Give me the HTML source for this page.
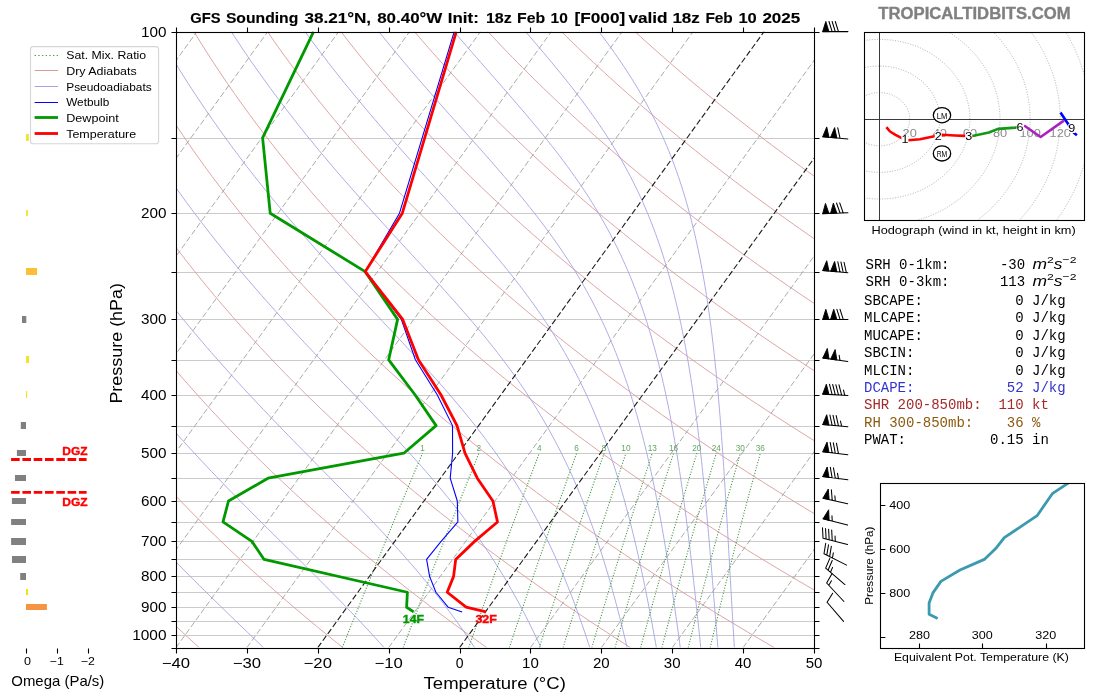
<!DOCTYPE html>
<html><head><meta charset="utf-8"><style>
html,body{margin:0;padding:0;background:#fff;width:1100px;height:700px;overflow:hidden;position:relative}
</style></head><body>
<svg width="1100" height="700" viewBox="0 0 1100 700" style="position:absolute;left:0;top:0;will-change:transform">
<rect width="1100" height="700" fill="#ffffff"/>
<defs><clipPath id="ax"><rect x="176.00" y="31.60" width="638.00" height="616.00"/></clipPath><clipPath id="hodo"><rect x="864.4" y="31.9" width="220.2" height="188.3"/></clipPath><clipPath id="thx"><rect x="880.3" y="482.9" width="204.3" height="165.7"/></clipPath></defs>
<g clip-path="url(#ax)">
<line x1="176.00" y1="138.50" x2="814.00" y2="138.50" stroke="#cbcbcb" stroke-width="1"/>
<line x1="176.00" y1="213.50" x2="814.00" y2="213.50" stroke="#cbcbcb" stroke-width="1"/>
<line x1="176.00" y1="272.50" x2="814.00" y2="272.50" stroke="#cbcbcb" stroke-width="1"/>
<line x1="176.00" y1="319.50" x2="814.00" y2="319.50" stroke="#cbcbcb" stroke-width="1"/>
<line x1="176.00" y1="360.50" x2="814.00" y2="360.50" stroke="#cbcbcb" stroke-width="1"/>
<line x1="176.00" y1="395.50" x2="814.00" y2="395.50" stroke="#cbcbcb" stroke-width="1"/>
<line x1="176.00" y1="426.50" x2="814.00" y2="426.50" stroke="#cbcbcb" stroke-width="1"/>
<line x1="176.00" y1="453.50" x2="814.00" y2="453.50" stroke="#cbcbcb" stroke-width="1"/>
<line x1="176.00" y1="478.50" x2="814.00" y2="478.50" stroke="#cbcbcb" stroke-width="1"/>
<line x1="176.00" y1="501.50" x2="814.00" y2="501.50" stroke="#cbcbcb" stroke-width="1"/>
<line x1="176.00" y1="522.50" x2="814.00" y2="522.50" stroke="#cbcbcb" stroke-width="1"/>
<line x1="176.00" y1="541.50" x2="814.00" y2="541.50" stroke="#cbcbcb" stroke-width="1"/>
<line x1="176.00" y1="559.50" x2="814.00" y2="559.50" stroke="#cbcbcb" stroke-width="1"/>
<line x1="176.00" y1="576.50" x2="814.00" y2="576.50" stroke="#cbcbcb" stroke-width="1"/>
<line x1="176.00" y1="592.50" x2="814.00" y2="592.50" stroke="#cbcbcb" stroke-width="1"/>
<line x1="176.00" y1="607.50" x2="814.00" y2="607.50" stroke="#cbcbcb" stroke-width="1"/>
<line x1="176.00" y1="621.50" x2="814.00" y2="621.50" stroke="#cbcbcb" stroke-width="1"/>
<line x1="176.00" y1="635.50" x2="814.00" y2="635.50" stroke="#cbcbcb" stroke-width="1"/>
<path d="M199.17 647.60L193.50 642.42L187.88 637.25L182.31 632.07L176.80 626.89L171.34 621.72L165.93 616.54L160.57 611.36L155.27 606.19L150.01 601.01L144.81 595.84L139.65 590.66L134.55 585.48L129.49 580.31L124.49 575.13L119.53 569.95L114.62 564.78L109.76 559.60L104.95 554.42L100.19 549.25L95.48 544.07L90.81 538.89L86.19 533.72L81.62 528.54L77.10 523.36L72.62 518.19L68.18 513.01L63.80 507.84L59.46 502.66L55.16 497.48L50.91 492.31L46.71 487.13L42.55 481.95L38.43 476.78L34.36 471.60L30.33 466.42L26.35 461.25L22.41 456.07L18.51 450.89L14.66 445.72L10.84 440.54L7.08 435.36L3.35 430.19L-0.34 425.01L-3.98 419.84L-7.58 414.66L-11.14 409.48L-14.66 404.31L-18.14 399.13L-21.58 393.95L-24.97 388.78L-28.33 383.60L-31.65 378.42L-34.92 373.25L-38.16 368.07L-41.36 362.89L-44.52 357.72L-47.64 352.54L-50.72 347.36L-53.76 342.19L-56.77 337.01L-59.74 331.84L-62.67 326.66L-65.56 321.48L-68.41 316.31L-71.23 311.13L-74.01 305.95L-76.75 300.78L-79.46 295.60L-82.13 290.42L-84.77 285.25L-87.37 280.07L-89.93 274.89L-92.46 269.72L-94.95 264.54L-97.41 259.36L-99.83 254.19L-102.22 249.01L-104.57 243.84L-106.89 238.66L-109.18 233.48L-111.43 228.31L-113.64 223.13L-115.83 217.95L-117.98 212.78L-120.10 207.60L-122.18 202.42L-124.23 197.25L-126.25 192.07L-128.24 186.89L-130.19 181.72L-132.11 176.54L-134.00 171.36L-135.86 166.19L-137.69 161.01L-139.48 155.84L-141.25 150.66L-142.98 145.48L-144.68 140.31L-146.36 135.13L-148.00 129.95L-149.61 124.78L-151.19 119.60L-152.74 114.42L-154.26 109.25L-155.75 104.07L-157.22 98.89L-158.65 93.72L-160.05 88.54L-161.43 83.36L-162.77 78.19L-164.09 73.01L-165.38 67.84L-166.64 62.66L-167.87 57.48L-169.08 52.31L-170.25 47.13L-171.40 41.95L-172.52 36.78L-173.62 31.60" fill="none" stroke="#dc9a9a" stroke-width="0.9"/>
<path d="M342.93 647.60L336.45 642.42L330.03 637.25L323.67 632.07L317.36 626.89L311.11 621.72L304.91 616.54L298.77 611.36L292.69 606.19L286.66 601.01L280.69 595.84L274.77 590.66L268.91 585.48L263.10 580.31L257.34 575.13L251.64 569.95L245.99 564.78L240.39 559.60L234.85 554.42L229.36 549.25L223.92 544.07L218.53 538.89L213.19 533.72L207.90 528.54L202.67 523.36L197.48 518.19L192.35 513.01L187.27 507.84L182.23 502.66L177.24 497.48L172.31 492.31L167.42 487.13L162.58 481.95L157.79 476.78L153.05 471.60L148.35 466.42L143.71 461.25L139.11 456.07L134.55 450.89L130.05 445.72L125.59 440.54L121.17 435.36L116.80 430.19L112.48 425.01L108.20 419.84L103.97 414.66L99.79 409.48L95.64 404.31L91.54 399.13L87.49 393.95L83.48 388.78L79.51 383.60L75.59 378.42L71.71 373.25L67.87 368.07L64.08 362.89L60.33 357.72L56.62 352.54L52.95 347.36L49.32 342.19L45.74 337.01L42.19 331.84L38.69 326.66L35.23 321.48L31.81 316.31L28.43 311.13L25.09 305.95L21.79 300.78L18.53 295.60L15.30 290.42L12.12 285.25L8.98 280.07L5.87 274.89L2.81 269.72L-0.22 264.54L-3.21 259.36L-6.16 254.19L-9.08 249.01L-11.96 243.84L-14.80 238.66L-17.60 233.48L-20.36 228.31L-23.09 223.13L-25.79 217.95L-28.44 212.78L-31.06 207.60L-33.65 202.42L-36.20 197.25L-38.71 192.07L-41.19 186.89L-43.63 181.72L-46.04 176.54L-48.41 171.36L-50.75 166.19L-53.06 161.01L-55.33 155.84L-57.57 150.66L-59.77 145.48L-61.94 140.31L-64.08 135.13L-66.18 129.95L-68.25 124.78L-70.29 119.60L-72.30 114.42L-74.27 109.25L-76.21 104.07L-78.12 98.89L-80.00 93.72L-81.85 88.54L-83.66 83.36L-85.44 78.19L-87.20 73.01L-88.92 67.84L-90.61 62.66L-92.27 57.48L-93.90 52.31L-95.49 47.13L-97.06 41.95L-98.60 36.78L-100.11 31.60" fill="none" stroke="#dc9a9a" stroke-width="0.9"/>
<path d="M486.70 647.60L479.41 642.42L472.18 637.25L465.02 632.07L457.92 626.89L450.88 621.72L443.90 616.54L436.98 611.36L430.12 606.19L423.32 601.01L416.57 595.84L409.89 590.66L403.27 585.48L396.70 580.31L390.20 575.13L383.75 569.95L377.35 564.78L371.02 559.60L364.74 554.42L358.52 549.25L352.35 544.07L346.24 538.89L340.19 533.72L334.19 528.54L328.24 523.36L322.35 518.19L316.51 513.01L310.73 507.84L305.00 502.66L299.33 497.48L293.70 492.31L288.13 487.13L282.62 481.95L277.15 476.78L271.74 471.60L266.38 466.42L261.07 461.25L255.81 456.07L250.60 450.89L245.44 445.72L240.33 440.54L235.27 435.36L230.26 430.19L225.30 425.01L220.39 419.84L215.53 414.66L210.71 409.48L205.94 404.31L201.23 399.13L196.56 393.95L191.93 388.78L187.36 383.60L182.83 378.42L178.34 373.25L173.91 368.07L169.52 362.89L165.17 357.72L160.87 352.54L156.62 347.36L152.41 342.19L148.25 337.01L144.13 331.84L140.05 326.66L136.02 321.48L132.03 316.31L128.09 311.13L124.19 305.95L120.33 300.78L116.51 295.60L112.74 290.42L109.01 285.25L105.32 280.07L101.68 274.89L98.07 269.72L94.51 264.54L90.98 259.36L87.50 254.19L84.06 249.01L80.66 243.84L77.30 238.66L73.98 233.48L70.70 228.31L67.46 223.13L64.26 217.95L61.09 212.78L57.97 207.60L54.88 202.42L51.84 197.25L48.83 192.07L45.86 186.89L42.93 181.72L40.03 176.54L37.17 171.36L34.35 166.19L31.57 161.01L28.82 155.84L26.11 150.66L23.44 145.48L20.80 140.31L18.20 135.13L15.63 129.95L13.10 124.78L10.60 119.60L8.14 114.42L5.72 109.25L3.33 104.07L0.97 98.89L-1.35 93.72L-3.64 88.54L-5.89 83.36L-8.11 78.19L-10.30 73.01L-12.45 67.84L-14.57 62.66L-16.66 57.48L-18.72 52.31L-20.74 47.13L-22.73 41.95L-24.68 36.78L-26.61 31.60" fill="none" stroke="#dc9a9a" stroke-width="0.9"/>
<path d="M630.46 647.60L622.37 642.42L614.34 637.25L606.38 632.07L598.48 626.89L590.65 621.72L582.88 616.54L575.18 611.36L567.54 606.19L559.97 601.01L552.46 595.84L545.01 590.66L537.63 585.48L530.31 580.31L523.05 575.13L515.85 569.95L508.72 564.78L501.65 559.60L494.63 554.42L487.68 549.25L480.79 544.07L473.96 538.89L467.18 533.72L460.47 528.54L453.81 523.36L447.22 518.19L440.68 513.01L434.20 507.84L427.78 502.66L421.41 497.48L415.10 492.31L408.85 487.13L402.65 481.95L396.51 476.78L390.43 471.60L384.40 466.42L378.42 461.25L372.50 456.07L366.64 450.89L360.83 445.72L355.07 440.54L349.37 435.36L343.71 430.19L338.12 425.01L332.57 419.84L327.08 414.66L321.64 409.48L316.25 404.31L310.91 399.13L305.62 393.95L300.39 388.78L295.20 383.60L290.06 378.42L284.98 373.25L279.94 368.07L274.96 362.89L270.02 357.72L265.13 352.54L260.29 347.36L255.50 342.19L250.75 337.01L246.06 331.84L241.41 326.66L236.81 321.48L232.25 316.31L227.75 311.13L223.28 305.95L218.87 300.78L214.50 295.60L210.18 290.42L205.90 285.25L201.67 280.07L197.48 274.89L193.33 269.72L189.23 264.54L185.18 259.36L181.17 254.19L177.20 249.01L173.28 243.84L169.40 238.66L165.56 233.48L161.76 228.31L158.01 223.13L154.30 217.95L150.63 212.78L147.00 207.60L143.42 202.42L139.87 197.25L136.37 192.07L132.91 186.89L129.48 181.72L126.10 176.54L122.76 171.36L119.46 166.19L116.20 161.01L112.97 155.84L109.79 150.66L106.65 145.48L103.54 140.31L100.47 135.13L97.44 129.95L94.45 124.78L91.50 119.60L88.58 114.42L85.71 109.25L82.87 104.07L80.06 98.89L77.30 93.72L74.57 88.54L71.87 83.36L69.21 78.19L66.59 73.01L64.01 67.84L61.46 62.66L58.94 57.48L56.46 52.31L54.02 47.13L51.61 41.95L49.24 36.78L46.90 31.60" fill="none" stroke="#dc9a9a" stroke-width="0.9"/>
<path d="M774.23 647.60L765.32 642.42L756.49 637.25L747.73 632.07L739.04 626.89L730.42 621.72L721.86 616.54L713.38 611.36L704.97 606.19L696.62 601.01L688.34 595.84L680.13 590.66L671.99 585.48L663.92 580.31L655.91 575.13L647.96 569.95L640.08 564.78L632.27 559.60L624.53 554.42L616.84 549.25L609.22 544.07L601.67 538.89L594.18 533.72L586.75 528.54L579.39 523.36L572.08 518.19L564.84 513.01L557.67 507.84L550.55 502.66L543.49 497.48L536.50 492.31L529.56 487.13L522.69 481.95L515.87 476.78L509.12 471.60L502.42 466.42L495.78 461.25L489.20 456.07L482.68 450.89L476.22 445.72L469.81 440.54L463.46 435.36L457.17 430.19L450.93 425.01L444.75 419.84L438.63 414.66L432.56 409.48L426.55 404.31L420.59 399.13L414.69 393.95L408.84 388.78L403.04 383.60L397.30 378.42L391.61 373.25L385.98 368.07L380.39 362.89L374.86 357.72L369.39 352.54L363.96 347.36L358.59 342.19L353.26 337.01L347.99 331.84L342.77 326.66L337.60 321.48L332.48 316.31L327.40 311.13L322.38 305.95L317.41 300.78L312.49 295.60L307.61 290.42L302.79 285.25L298.01 280.07L293.28 274.89L288.60 269.72L283.96 264.54L279.38 259.36L274.84 254.19L270.34 249.01L265.89 243.84L261.49 238.66L257.14 233.48L252.83 228.31L248.56 223.13L244.34 217.95L240.17 212.78L236.04 207.60L231.95 202.42L227.91 197.25L223.91 192.07L219.95 186.89L216.04 181.72L212.17 176.54L208.35 171.36L204.57 166.19L200.82 161.01L197.13 155.84L193.47 150.66L189.85 145.48L186.28 140.31L182.75 135.13L179.26 129.95L175.81 124.78L172.40 119.60L169.03 114.42L165.70 109.25L162.41 104.07L159.16 98.89L155.94 93.72L152.77 88.54L149.64 83.36L146.54 78.19L143.49 73.01L140.47 67.84L137.49 62.66L134.55 57.48L131.64 52.31L128.78 47.13L125.95 41.95L123.15 36.78L120.40 31.60" fill="none" stroke="#dc9a9a" stroke-width="0.9"/>
<path d="M917.99 647.60L908.28 642.42L898.64 637.25L889.08 632.07L879.60 626.89L870.19 621.72L860.85 616.54L851.58 611.36L842.39 606.19L833.27 601.01L824.23 595.84L815.26 590.66L806.35 585.48L797.52 580.31L788.76 575.13L780.07 569.95L771.45 564.78L762.90 559.60L754.42 554.42L746.01 549.25L737.66 544.07L729.38 538.89L721.18 533.72L713.03 528.54L704.96 523.36L696.95 518.19L689.01 513.01L681.13 507.84L673.32 502.66L665.57 497.48L657.89 492.31L650.28 487.13L642.72 481.95L635.23 476.78L627.81 471.60L620.44 466.42L613.14 461.25L605.90 456.07L598.72 450.89L591.61 445.72L584.55 440.54L577.56 435.36L570.63 430.19L563.75 425.01L556.94 419.84L550.18 414.66L543.49 409.48L536.85 404.31L530.27 399.13L523.75 393.95L517.29 388.78L510.89 383.60L504.54 378.42L498.25 373.25L492.01 368.07L485.83 362.89L479.71 357.72L473.64 352.54L467.63 347.36L461.67 342.19L455.77 337.01L449.92 331.84L444.13 326.66L438.39 321.48L432.70 316.31L427.06 311.13L421.48 305.95L415.95 300.78L410.48 295.60L405.05 290.42L399.68 285.25L394.35 280.07L389.08 274.89L383.86 269.72L378.69 264.54L373.57 259.36L368.50 254.19L363.48 249.01L358.51 243.84L353.59 238.66L348.71 233.48L343.89 228.31L339.11 223.13L334.38 217.95L329.70 212.78L325.07 207.60L320.48 202.42L315.94 197.25L311.45 192.07L307.00 186.89L302.60 181.72L298.25 176.54L293.94 171.36L289.67 166.19L285.45 161.01L281.28 155.84L277.15 150.66L273.06 145.48L269.02 140.31L265.02 135.13L261.07 129.95L257.16 124.78L253.29 119.60L249.47 114.42L245.69 109.25L241.95 104.07L238.25 98.89L234.59 93.72L230.98 88.54L227.40 83.36L223.87 78.19L220.38 73.01L216.93 67.84L213.52 62.66L210.15 57.48L206.82 52.31L203.53 47.13L200.28 41.95L197.07 36.78L193.90 31.60" fill="none" stroke="#dc9a9a" stroke-width="0.9"/>
<path d="M1061.76 647.60L1051.24 642.42L1040.80 637.25L1030.44 632.07L1020.16 626.89L1009.96 621.72L999.83 616.54L989.79 611.36L979.82 606.19L969.93 601.01L960.11 595.84L950.38 590.66L940.71 585.48L931.13 580.31L921.62 575.13L912.18 569.95L902.82 564.78L893.53 559.60L884.31 554.42L875.17 549.25L866.10 544.07L857.10 538.89L848.17 533.72L839.32 528.54L830.53 523.36L821.82 518.19L813.17 513.01L804.60 507.84L796.09 502.66L787.66 497.48L779.29 492.31L770.99 487.13L762.76 481.95L754.59 476.78L746.50 471.60L738.46 466.42L730.50 461.25L722.60 456.07L714.77 450.89L707.00 445.72L699.30 440.54L691.66 435.36L684.08 430.19L676.57 425.01L669.12 419.84L661.74 414.66L654.41 409.48L647.15 404.31L639.96 399.13L632.82 393.95L625.74 388.78L618.73 383.60L611.77 378.42L604.88 373.25L598.05 368.07L591.27 362.89L584.55 357.72L577.90 352.54L571.30 347.36L564.76 342.19L558.28 337.01L551.85 331.84L545.48 326.66L539.17 321.48L532.92 316.31L526.72 311.13L520.58 305.95L514.49 300.78L508.46 295.60L502.49 290.42L496.57 285.25L490.70 280.07L484.89 274.89L479.13 269.72L473.42 264.54L467.77 259.36L462.17 254.19L456.62 249.01L451.13 243.84L445.68 238.66L440.29 233.48L434.95 228.31L429.66 223.13L424.43 217.95L419.24 212.78L414.10 207.60L409.01 202.42L403.98 197.25L398.99 192.07L394.05 186.89L389.16 181.72L384.32 176.54L379.52 171.36L374.78 166.19L370.08 161.01L365.43 155.84L360.83 150.66L356.27 145.48L351.76 140.31L347.30 135.13L342.88 129.95L338.51 124.78L334.19 119.60L329.91 114.42L325.67 109.25L321.49 104.07L317.34 98.89L313.24 93.72L309.18 88.54L305.17 83.36L301.20 78.19L297.28 73.01L293.39 67.84L289.55 62.66L285.76 57.48L282.00 52.31L278.29 47.13L274.62 41.95L270.99 36.78L267.41 31.60" fill="none" stroke="#dc9a9a" stroke-width="0.9"/>
<path d="M1205.52 647.60L1194.19 642.42L1182.95 637.25L1171.79 632.07L1160.72 626.89L1149.72 621.72L1138.82 616.54L1127.99 611.36L1117.24 606.19L1106.58 601.01L1096.00 595.84L1085.50 590.66L1075.08 585.48L1064.73 580.31L1054.47 575.13L1044.29 569.95L1034.18 564.78L1024.15 559.60L1014.20 554.42L1004.33 549.25L994.53 544.07L984.81 538.89L975.17 533.72L965.60 528.54L956.10 523.36L946.68 518.19L937.34 513.01L928.07 507.84L918.87 502.66L909.74 497.48L900.69 492.31L891.70 487.13L882.79 481.95L873.95 476.78L865.19 471.60L856.49 466.42L847.86 461.25L839.30 456.07L830.81 450.89L822.39 445.72L814.04 440.54L805.75 435.36L797.54 430.19L789.39 425.01L781.31 419.84L773.29 414.66L765.34 409.48L757.46 404.31L749.64 399.13L741.88 393.95L734.20 388.78L726.57 383.60L719.01 378.42L711.51 373.25L704.08 368.07L696.71 362.89L689.40 357.72L682.15 352.54L674.97 347.36L667.85 342.19L660.78 337.01L653.78 331.84L646.84 326.66L639.96 321.48L633.14 316.31L626.38 311.13L619.68 305.95L613.04 300.78L606.45 295.60L599.92 290.42L593.45 285.25L587.04 280.07L580.69 274.89L574.39 269.72L568.15 264.54L561.96 259.36L555.83 254.19L549.76 249.01L543.74 243.84L537.78 238.66L531.87 233.48L526.02 228.31L520.21 223.13L514.47 217.95L508.77 212.78L503.13 207.60L497.55 202.42L492.01 197.25L486.53 192.07L481.10 186.89L475.72 181.72L470.39 176.54L465.11 171.36L459.89 166.19L454.71 161.01L449.58 155.84L444.51 150.66L439.48 145.48L434.50 140.31L429.58 135.13L424.70 129.95L419.87 124.78L415.09 119.60L410.35 114.42L405.66 109.25L401.03 104.07L396.43 98.89L391.89 93.72L387.39 88.54L382.94 83.36L378.53 78.19L374.17 73.01L369.86 67.84L365.59 62.66L361.36 57.48L357.18 52.31L353.05 47.13L348.96 41.95L344.91 36.78L340.91 31.60" fill="none" stroke="#dc9a9a" stroke-width="0.9"/>
<path d="M1349.29 647.60L1337.15 642.42L1325.10 637.25L1313.15 632.07L1301.28 626.89L1289.49 621.72L1277.80 616.54L1266.19 611.36L1254.67 606.19L1243.23 601.01L1231.88 595.84L1220.62 590.66L1209.44 585.48L1198.34 580.31L1187.33 575.13L1176.39 569.95L1165.55 564.78L1154.78 559.60L1144.10 554.42L1133.49 549.25L1122.97 544.07L1112.53 538.89L1102.16 533.72L1091.88 528.54L1081.68 523.36L1071.55 518.19L1061.50 513.01L1051.53 507.84L1041.64 502.66L1031.82 497.48L1022.08 492.31L1012.42 487.13L1002.83 481.95L993.31 476.78L983.87 471.60L974.51 466.42L965.22 461.25L956.00 456.07L946.85 450.89L937.78 445.72L928.78 440.54L919.85 435.36L910.99 430.19L902.21 425.01L893.49 419.84L884.84 414.66L876.27 409.48L867.76 404.31L859.32 399.13L850.95 393.95L842.65 388.78L834.41 383.60L826.25 378.42L818.15 373.25L810.11 368.07L802.15 362.89L794.25 357.72L786.41 352.54L778.64 347.36L770.93 342.19L763.29 337.01L755.72 331.84L748.20 326.66L740.75 321.48L733.36 316.31L726.04 311.13L718.78 305.95L711.58 300.78L704.44 295.60L697.36 290.42L690.34 285.25L683.39 280.07L676.49 274.89L669.65 269.72L662.88 264.54L656.16 259.36L649.50 254.19L642.90 249.01L636.36 243.84L629.87 238.66L623.45 233.48L617.08 228.31L610.77 223.13L604.51 217.95L598.31 212.78L592.17 207.60L586.08 202.42L580.05 197.25L574.07 192.07L568.14 186.89L562.28 181.72L556.46 176.54L550.70 171.36L544.99 166.19L539.34 161.01L533.74 155.84L528.19 150.66L522.69 145.48L517.25 140.31L511.85 135.13L506.51 129.95L501.22 124.78L495.98 119.60L490.79 114.42L485.65 109.25L480.56 104.07L475.53 98.89L470.54 93.72L465.60 88.54L460.70 83.36L455.86 78.19L451.07 73.01L446.32 67.84L441.62 62.66L436.97 57.48L432.36 52.31L427.81 47.13L423.30 41.95L418.83 36.78L414.41 31.60" fill="none" stroke="#dc9a9a" stroke-width="0.9"/>
<path d="M1493.05 647.60L1480.11 642.42L1467.26 637.25L1454.50 632.07L1441.84 626.89L1429.26 621.72L1416.78 616.54L1404.39 611.36L1392.10 606.19L1379.89 601.01L1367.77 595.84L1355.74 590.66L1343.80 585.48L1331.95 580.31L1320.18 575.13L1308.50 569.95L1296.91 564.78L1285.41 559.60L1273.99 554.42L1262.65 549.25L1251.41 544.07L1240.24 538.89L1229.16 533.72L1218.16 528.54L1207.25 523.36L1196.42 518.19L1185.67 513.01L1175.00 507.84L1164.41 502.66L1153.90 497.48L1143.48 492.31L1133.13 487.13L1122.86 481.95L1112.67 476.78L1102.56 471.60L1092.53 466.42L1082.58 461.25L1072.70 456.07L1062.90 450.89L1053.17 445.72L1043.52 440.54L1033.95 435.36L1024.45 430.19L1015.02 425.01L1005.67 419.84L996.40 414.66L987.19 409.48L978.06 404.31L969.00 399.13L960.02 393.95L951.10 388.78L942.26 383.60L933.48 378.42L924.78 373.25L916.15 368.07L907.59 362.89L899.09 357.72L890.67 352.54L882.31 347.36L874.02 342.19L865.80 337.01L857.65 331.84L849.56 326.66L841.54 321.48L833.59 316.31L825.70 311.13L817.88 305.95L810.12 300.78L802.43 295.60L794.80 290.42L787.23 285.25L779.73 280.07L772.29 274.89L764.92 269.72L757.61 264.54L750.36 259.36L743.17 254.19L736.04 249.01L728.98 243.84L721.97 238.66L715.03 233.48L708.14 228.31L701.32 223.13L694.55 217.95L687.85 212.78L681.20 207.60L674.61 202.42L668.08 197.25L661.61 192.07L655.19 186.89L648.83 181.72L642.53 176.54L636.29 171.36L630.10 166.19L623.97 161.01L617.89 155.84L611.87 150.66L605.90 145.48L599.99 140.31L594.13 135.13L588.33 129.95L582.57 124.78L576.88 119.60L571.23 114.42L565.64 109.25L560.10 104.07L554.62 98.89L549.18 93.72L543.80 88.54L538.47 83.36L533.19 78.19L527.96 73.01L522.78 67.84L517.65 62.66L512.57 57.48L507.54 52.31L502.56 47.13L497.63 41.95L492.75 36.78L487.92 31.60" fill="none" stroke="#dc9a9a" stroke-width="0.9"/>
<path d="M1636.82 647.60L1623.07 642.42L1609.41 637.25L1595.85 632.07L1582.40 626.89L1569.03 621.72L1555.77 616.54L1542.60 611.36L1529.52 606.19L1516.54 601.01L1503.65 595.84L1490.86 590.66L1478.16 585.48L1465.55 580.31L1453.04 575.13L1440.61 569.95L1428.28 564.78L1416.03 559.60L1403.88 554.42L1391.82 549.25L1379.84 544.07L1367.96 538.89L1356.16 533.72L1344.45 528.54L1332.82 523.36L1321.28 518.19L1309.83 513.01L1298.47 507.84L1287.18 502.66L1275.99 497.48L1264.87 492.31L1253.84 487.13L1242.90 481.95L1232.03 476.78L1221.25 471.60L1210.55 466.42L1199.93 461.25L1189.40 456.07L1178.94 450.89L1168.56 445.72L1158.26 440.54L1148.04 435.36L1137.90 430.19L1127.84 425.01L1117.86 419.84L1107.95 414.66L1098.12 409.48L1088.36 404.31L1078.68 399.13L1069.08 393.95L1059.55 388.78L1050.10 383.60L1040.72 378.42L1031.41 373.25L1022.18 368.07L1013.02 362.89L1003.94 357.72L994.92 352.54L985.98 347.36L977.11 342.19L968.31 337.01L959.58 331.84L950.92 326.66L942.33 321.48L933.81 316.31L925.36 311.13L916.97 305.95L908.66 300.78L900.41 295.60L892.23 290.42L884.12 285.25L876.08 280.07L868.10 274.89L860.18 269.72L852.33 264.54L844.55 259.36L836.83 254.19L829.18 249.01L821.59 243.84L814.07 238.66L806.60 233.48L799.20 228.31L791.87 223.13L784.59 217.95L777.38 212.78L770.23 207.60L763.14 202.42L756.11 197.25L749.15 192.07L742.24 186.89L735.39 181.72L728.60 176.54L721.88 171.36L715.21 166.19L708.59 161.01L702.04 155.84L695.55 150.66L689.11 145.48L682.73 140.31L676.41 135.13L670.14 129.95L663.93 124.78L657.77 119.60L651.68 114.42L645.63 109.25L639.64 104.07L633.71 98.89L627.83 93.72L622.01 88.54L616.24 83.36L610.52 78.19L604.85 73.01L599.24 67.84L593.68 62.66L588.18 57.48L582.72 52.31L577.32 47.13L571.97 41.95L566.67 36.78L561.42 31.60" fill="none" stroke="#dc9a9a" stroke-width="0.9"/>
<path d="M1780.58 647.60L1766.02 642.42L1751.56 637.25L1737.21 632.07L1722.95 626.89L1708.80 621.72L1694.75 616.54L1680.80 611.36L1666.95 606.19L1653.19 601.01L1639.54 595.84L1625.98 590.66L1612.52 585.48L1599.16 580.31L1585.89 575.13L1572.72 569.95L1559.64 564.78L1546.66 559.60L1533.77 554.42L1520.98 549.25L1508.28 544.07L1495.67 538.89L1483.15 533.72L1470.73 528.54L1458.39 523.36L1446.15 518.19L1434.00 513.01L1421.93 507.84L1409.96 502.66L1398.07 497.48L1386.27 492.31L1374.56 487.13L1362.93 481.95L1351.40 476.78L1339.94 471.60L1328.58 466.42L1317.29 461.25L1306.10 456.07L1294.98 450.89L1283.95 445.72L1273.01 440.54L1262.14 435.36L1251.36 430.19L1240.66 425.01L1230.04 419.84L1219.50 414.66L1209.04 409.48L1198.67 404.31L1188.37 399.13L1178.15 393.95L1168.01 388.78L1157.94 383.60L1147.96 378.42L1138.05 373.25L1128.22 368.07L1118.46 362.89L1108.78 357.72L1099.18 352.54L1089.65 347.36L1080.20 342.19L1070.82 337.01L1061.51 331.84L1052.28 326.66L1043.12 321.48L1034.03 316.31L1025.02 311.13L1016.07 305.95L1007.20 300.78L998.40 295.60L989.67 290.42L981.01 285.25L972.42 280.07L963.90 274.89L955.45 269.72L947.06 264.54L938.75 259.36L930.50 254.19L922.32 249.01L914.21 243.84L906.16 238.66L898.18 233.48L890.27 228.31L882.42 223.13L874.64 217.95L866.92 212.78L859.26 207.60L851.67 202.42L844.15 197.25L836.69 192.07L829.29 186.89L821.95 181.72L814.68 176.54L807.46 171.36L800.31 166.19L793.22 161.01L786.19 155.84L779.23 150.66L772.32 145.48L765.47 140.31L758.68 135.13L751.95 129.95L745.28 124.78L738.67 119.60L732.12 114.42L725.62 109.25L719.18 104.07L712.80 98.89L706.48 93.72L700.21 88.54L694.00 83.36L687.85 78.19L681.75 73.01L675.70 67.84L669.72 62.66L663.78 57.48L657.90 52.31L652.08 47.13L646.31 41.95L640.59 36.78L634.92 31.60" fill="none" stroke="#dc9a9a" stroke-width="0.9"/>
<path d="M263.44 647.60L258.06 642.42L252.67 637.25L247.28 632.07L241.90 626.89L236.53 621.72L231.17 616.54L225.83 611.36L220.50 606.19L215.18 601.01L209.90 595.84L204.63 590.66L199.39 585.48L194.18 580.31L189.00 575.13L183.85 569.95L178.73 564.78L173.65 559.60L168.60 554.42L163.59 549.25L158.61 544.07L153.68 538.89L148.78 533.72L143.93 528.54L139.11 523.36L134.34 518.19L129.60 513.01L124.91 507.84L120.27 502.66L115.66 497.48L111.10 492.31L106.58 487.13L102.11 481.95L97.68 476.78L93.29 471.60L88.95 466.42L84.65 461.25L80.39 456.07L76.18 450.89L72.01 445.72L67.88 440.54L63.80 435.36L59.76 430.19L55.76 425.01L51.81 419.84L47.89 414.66L44.03 409.48L40.20 404.31L36.42 399.13L32.67 393.95L28.97 388.78L25.31 383.60L21.70 378.42L18.12 373.25L14.59 368.07L11.09 362.89L7.64 357.72L4.23 352.54L0.85 347.36L-2.48 342.19L-5.77 337.01L-9.03 331.84L-12.24 326.66L-15.42 321.48L-18.55 316.31L-21.65 311.13L-24.71 305.95L-27.73 300.78L-30.71 295.60L-33.66 290.42L-36.57 285.25L-39.44 280.07L-42.27 274.89L-45.06 269.72L-47.82 264.54L-50.55 259.36L-53.23 254.19L-55.88 249.01L-58.50 243.84L-61.07 238.66L-63.62 233.48L-66.12 228.31L-68.59 223.13L-71.03 217.95L-73.43 212.78L-75.80 207.60L-78.13 202.42L-80.43 197.25L-82.70 192.07L-84.93 186.89L-87.13 181.72L-89.29 176.54L-91.42 171.36L-93.52 166.19L-95.59 161.01L-97.62 155.84L-99.62 150.66L-101.58 145.48L-103.52 140.31L-105.42 135.13L-107.29 129.95L-109.13 124.78L-110.94 119.60L-112.72 114.42L-114.47 109.25L-116.18 104.07L-117.87 98.89L-119.52 93.72L-121.14 88.54L-122.74 83.36L-124.30 78.19L-125.83 73.01L-127.34 67.84L-128.81 62.66L-130.26 57.48L-131.67 52.31L-133.06 47.13L-134.42 41.95L-135.75 36.78L-137.05 31.60" fill="none" stroke="#a4a4e4" stroke-width="0.9"/>
<path d="M384.06 647.60L379.42 642.42L374.72 637.25L369.96 632.07L365.15 626.89L360.29 621.72L355.37 616.54L350.41 611.36L345.41 606.19L340.37 601.01L335.29 595.84L330.18 590.66L325.04 585.48L319.88 580.31L314.69 575.13L309.49 569.95L304.27 564.78L299.04 559.60L293.81 554.42L288.57 549.25L283.33 544.07L278.10 538.89L272.87 533.72L267.66 528.54L262.45 523.36L257.26 518.19L252.10 513.01L246.95 507.84L241.82 502.66L236.72 497.48L231.65 492.31L226.61 487.13L221.60 481.95L216.62 476.78L211.67 471.60L206.76 466.42L201.89 461.25L197.05 456.07L192.25 450.89L187.49 445.72L182.77 440.54L178.09 435.36L173.46 430.19L168.86 425.01L164.30 419.84L159.79 414.66L155.32 409.48L150.89 404.31L146.50 399.13L142.16 393.95L137.86 388.78L133.60 383.60L129.39 378.42L125.22 373.25L121.09 368.07L117.01 362.89L112.96 357.72L108.96 352.54L105.01 347.36L101.09 342.19L97.22 337.01L93.39 331.84L89.61 326.66L85.86 321.48L82.16 316.31L78.50 311.13L74.88 305.95L71.30 300.78L67.76 295.60L64.26 290.42L60.80 285.25L57.39 280.07L54.01 274.89L50.67 269.72L47.38 264.54L44.12 259.36L40.90 254.19L37.72 249.01L34.58 243.84L31.48 238.66L28.42 233.48L25.39 228.31L22.41 223.13L19.46 217.95L16.55 212.78L13.68 207.60L10.84 202.42L8.04 197.25L5.28 192.07L2.55 186.89L-0.14 181.72L-2.79 176.54L-5.41 171.36L-7.99 166.19L-10.53 161.01L-13.04 155.84L-15.52 150.66L-17.96 145.48L-20.37 140.31L-22.74 135.13L-25.07 129.95L-27.37 124.78L-29.64 119.60L-31.88 114.42L-34.08 109.25L-36.24 104.07L-38.38 98.89L-40.48 93.72L-42.55 88.54L-44.58 83.36L-46.59 78.19L-48.56 73.01L-50.49 67.84L-52.40 62.66L-54.27 57.48L-56.12 52.31L-57.93 47.13L-59.71 41.95L-61.46 36.78L-63.18 31.60" fill="none" stroke="#a4a4e4" stroke-width="0.9"/>
<path d="M474.56 647.60L471.15 642.42L467.68 637.25L464.15 632.07L460.54 626.89L456.87 621.72L453.12 616.54L449.30 611.36L445.42 606.19L441.46 601.01L437.43 595.84L433.33 590.66L429.16 585.48L424.92 580.31L420.62 575.13L416.25 569.95L411.81 564.78L407.31 559.60L402.74 554.42L398.12 549.25L393.44 544.07L388.71 538.89L383.93 533.72L379.10 528.54L374.22 523.36L369.31 518.19L364.36 513.01L359.37 507.84L354.36 502.66L349.32 497.48L344.26 492.31L339.18 487.13L334.09 481.95L328.99 476.78L323.89 471.60L318.78 466.42L313.67 461.25L308.57 456.07L303.48 450.89L298.39 445.72L293.32 440.54L288.27 435.36L283.24 430.19L278.23 425.01L273.24 419.84L268.28 414.66L263.35 409.48L258.45 404.31L253.57 399.13L248.74 393.95L243.93 388.78L239.17 383.60L234.43 378.42L229.74 373.25L225.08 368.07L220.47 362.89L215.89 357.72L211.36 352.54L206.86 347.36L202.41 342.19L197.99 337.01L193.62 331.84L189.29 326.66L185.01 321.48L180.76 316.31L176.56 311.13L172.40 305.95L168.29 300.78L164.21 295.60L160.18 290.42L156.19 285.25L152.25 280.07L148.34 274.89L144.48 269.72L140.66 264.54L136.88 259.36L133.14 254.19L129.45 249.01L125.80 243.84L122.19 238.66L118.61 233.48L115.08 228.31L111.59 223.13L108.15 217.95L104.74 212.78L101.37 207.60L98.04 202.42L94.75 197.25L91.50 192.07L88.29 186.89L85.12 181.72L81.99 176.54L78.90 171.36L75.84 166.19L72.82 161.01L69.85 155.84L66.90 150.66L64.00 145.48L61.13 140.31L58.31 135.13L55.51 129.95L52.76 124.78L50.04 119.60L47.36 114.42L44.71 109.25L42.10 104.07L39.53 98.89L36.99 93.72L34.49 88.54L32.02 83.36L29.58 78.19L27.19 73.01L24.82 67.84L22.49 62.66L20.20 57.48L17.93 52.31L15.71 47.13L13.51 41.95L11.35 36.78L9.22 31.60" fill="none" stroke="#a4a4e4" stroke-width="0.9"/>
<path d="M540.89 647.60L538.52 642.42L536.10 637.25L533.64 632.07L531.12 626.89L528.55 621.72L525.93 616.54L523.26 611.36L520.52 606.19L517.73 601.01L514.88 595.84L511.97 590.66L509.00 585.48L505.97 580.31L502.87 575.13L499.70 569.95L496.46 564.78L493.16 559.60L489.78 554.42L486.34 549.25L482.82 544.07L479.23 538.89L475.57 533.72L471.83 528.54L468.02 523.36L464.14 518.19L460.19 513.01L456.16 507.84L452.06 502.66L447.89 497.48L443.65 492.31L439.34 487.13L434.97 481.95L430.53 476.78L426.03 471.60L421.48 466.42L416.87 461.25L412.21 456.07L407.49 450.89L402.74 445.72L397.94 440.54L393.10 435.36L388.24 430.19L383.34 425.01L378.41 419.84L373.47 414.66L368.51 409.48L363.53 404.31L358.55 399.13L353.56 393.95L348.57 388.78L343.58 383.60L338.60 378.42L333.62 373.25L328.66 368.07L323.71 362.89L318.78 357.72L313.87 352.54L308.98 347.36L304.12 342.19L299.29 337.01L294.48 331.84L289.70 326.66L284.96 321.48L280.25 316.31L275.57 311.13L270.93 305.95L266.33 300.78L261.76 295.60L257.24 290.42L252.75 285.25L248.30 280.07L243.89 274.89L239.52 269.72L235.20 264.54L230.91 259.36L226.67 254.19L222.47 249.01L218.31 243.84L214.19 238.66L210.11 233.48L206.08 228.31L202.09 223.13L198.14 217.95L194.23 212.78L190.36 207.60L186.54 202.42L182.76 197.25L179.02 192.07L175.32 186.89L171.66 181.72L168.05 176.54L164.47 171.36L160.94 166.19L157.44 161.01L153.99 155.84L150.58 150.66L147.20 145.48L143.87 140.31L140.58 135.13L137.32 129.95L134.11 124.78L130.93 119.60L127.80 114.42L124.70 109.25L121.64 104.07L118.62 98.89L115.64 93.72L112.69 88.54L109.78 83.36L106.91 78.19L104.08 73.01L101.28 67.84L98.52 62.66L95.80 57.48L93.11 52.31L90.46 47.13L87.85 41.95L85.27 36.78L82.73 31.60" fill="none" stroke="#a4a4e4" stroke-width="0.9"/>
<path d="M589.78 647.60L588.11 642.42L586.40 637.25L584.66 632.07L582.89 626.89L581.09 621.72L579.26 616.54L577.39 611.36L575.49 606.19L573.55 601.01L571.57 595.84L569.54 590.66L567.48 585.48L565.38 580.31L563.23 575.13L561.03 569.95L558.79 564.78L556.49 559.60L554.15 554.42L551.75 549.25L549.30 544.07L546.80 538.89L544.23 533.72L541.61 528.54L538.93 523.36L536.18 518.19L533.37 513.01L530.50 507.84L527.56 502.66L524.55 497.48L521.47 492.31L518.32 487.13L515.10 481.95L511.80 476.78L508.43 471.60L504.99 466.42L501.47 461.25L497.88 456.07L494.21 450.89L490.46 445.72L486.64 440.54L482.74 435.36L478.77 430.19L474.73 425.01L470.61 419.84L466.43 414.66L462.18 409.48L457.86 404.31L453.48 399.13L449.04 393.95L444.54 388.78L439.99 383.60L435.39 378.42L430.74 373.25L426.05 368.07L421.32 362.89L416.56 357.72L411.77 352.54L406.95 347.36L402.11 342.19L397.26 337.01L392.39 331.84L387.51 326.66L382.63 321.48L377.74 316.31L372.86 311.13L367.99 305.95L363.12 300.78L358.27 295.60L353.43 290.42L348.61 285.25L343.81 280.07L339.03 274.89L334.28 269.72L329.56 264.54L324.86 259.36L320.20 254.19L315.57 249.01L310.97 243.84L306.41 238.66L301.88 233.48L297.39 228.31L292.94 223.13L288.52 217.95L284.15 212.78L279.82 207.60L275.52 202.42L271.27 197.25L267.05 192.07L262.88 186.89L258.75 181.72L254.66 176.54L250.61 171.36L246.60 166.19L242.64 161.01L238.72 155.84L234.84 150.66L231.00 145.48L227.20 140.31L223.44 135.13L219.73 129.95L216.05 124.78L212.42 119.60L208.83 114.42L205.28 109.25L201.77 104.07L198.30 98.89L194.87 93.72L191.48 88.54L188.13 83.36L184.82 78.19L181.55 73.01L178.32 67.84L175.12 62.66L171.97 57.48L168.86 52.31L165.78 47.13L162.74 41.95L159.74 36.78L156.78 31.60" fill="none" stroke="#a4a4e4" stroke-width="0.9"/>
<path d="M627.12 647.60L625.90 642.42L624.66 637.25L623.40 632.07L622.13 626.89L620.83 621.72L619.52 616.54L618.18 611.36L616.82 606.19L615.44 601.01L614.04 595.84L612.61 590.66L611.16 585.48L609.68 580.31L608.17 575.13L606.63 569.95L605.06 564.78L603.46 559.60L601.83 554.42L600.16 549.25L598.46 544.07L596.73 538.89L594.95 533.72L593.14 528.54L591.28 523.36L589.39 518.19L587.45 513.01L585.47 507.84L583.43 502.66L581.36 497.48L579.23 492.31L577.05 487.13L574.82 481.95L572.53 476.78L570.19 471.60L567.78 466.42L565.32 461.25L562.80 456.07L560.21 450.89L557.56 445.72L554.85 440.54L552.06 435.36L549.21 430.19L546.28 425.01L543.28 419.84L540.21 414.66L537.06 409.48L533.84 404.31L530.54 399.13L527.17 393.95L523.72 388.78L520.18 383.60L516.57 378.42L512.89 373.25L509.12 368.07L505.28 362.89L501.37 357.72L497.38 352.54L493.32 347.36L489.18 342.19L484.99 337.01L480.72 331.84L476.39 326.66L472.01 321.48L467.57 316.31L463.07 311.13L458.53 305.95L453.95 300.78L449.32 295.60L444.66 290.42L439.97 285.25L435.25 280.07L430.52 274.89L425.76 269.72L420.99 264.54L416.21 259.36L411.42 254.19L406.63 249.01L401.85 243.84L397.07 238.66L392.30 233.48L387.55 228.31L382.80 223.13L378.08 217.95L373.38 212.78L368.70 207.60L364.05 202.42L359.42 197.25L354.82 192.07L350.26 186.89L345.72 181.72L341.22 176.54L336.76 171.36L332.33 166.19L327.94 161.01L323.58 155.84L319.27 150.66L314.99 145.48L310.75 140.31L306.55 135.13L302.40 129.95L298.28 124.78L294.20 119.60L290.17 114.42L286.17 109.25L282.22 104.07L278.31 98.89L274.44 93.72L270.61 88.54L266.82 83.36L263.08 78.19L259.37 73.01L255.71 67.84L252.08 62.66L248.50 57.48L244.96 52.31L241.46 47.13L238.00 41.95L234.58 36.78L231.20 31.60" fill="none" stroke="#a4a4e4" stroke-width="0.9"/>
<path d="M656.38 647.60L655.46 642.42L654.54 637.25L653.60 632.07L652.66 626.89L651.70 621.72L650.73 616.54L649.75 611.36L648.75 606.19L647.75 601.01L646.72 595.84L645.69 590.66L644.63 585.48L643.57 580.31L642.48 575.13L641.38 569.95L640.26 564.78L639.11 559.60L637.95 554.42L636.77 549.25L635.57 544.07L634.34 538.89L633.09 533.72L631.82 528.54L630.52 523.36L629.19 518.19L627.83 513.01L626.45 507.84L625.04 502.66L623.59 497.48L622.12 492.31L620.60 487.13L619.06 481.95L617.48 476.78L615.86 471.60L614.20 466.42L612.50 461.25L610.76 456.07L608.98 450.89L607.15 445.72L605.27 440.54L603.35 435.36L601.37 430.19L599.35 425.01L597.27 419.84L595.14 414.66L592.95 409.48L590.70 404.31L588.39 399.13L586.02 393.95L583.59 388.78L581.09 383.60L578.52 378.42L575.89 373.25L573.18 368.07L570.40 362.89L567.55 357.72L564.63 352.54L561.62 347.36L558.55 342.19L555.39 337.01L552.15 331.84L548.84 326.66L545.44 321.48L541.97 316.31L538.41 311.13L534.78 305.95L531.06 300.78L527.27 295.60L523.41 290.42L519.47 285.25L515.45 280.07L511.37 274.89L507.22 269.72L503.00 264.54L498.72 259.36L494.39 254.19L490.00 249.01L485.56 243.84L481.07 238.66L476.55 233.48L471.99 228.31L467.39 223.13L462.77 217.95L458.12 212.78L453.45 207.60L448.77 202.42L444.08 197.25L439.39 192.07L434.69 186.89L429.99 181.72L425.30 176.54L420.62 171.36L415.95 166.19L411.29 161.01L406.65 155.84L402.04 150.66L397.44 145.48L392.88 140.31L388.33 135.13L383.82 129.95L379.34 124.78L374.89 119.60L370.48 114.42L366.10 109.25L361.75 104.07L357.44 98.89L353.17 93.72L348.94 88.54L344.75 83.36L340.59 78.19L336.48 73.01L332.40 67.84L328.37 62.66L324.37 57.48L320.42 52.31L316.51 47.13L312.64 41.95L308.81 36.78L305.02 31.60" fill="none" stroke="#a4a4e4" stroke-width="0.9"/>
<path d="M680.28 647.60L679.58 642.42L678.87 637.25L678.16 632.07L677.45 626.89L676.73 621.72L676.00 616.54L675.26 611.36L674.52 606.19L673.77 601.01L673.02 595.84L672.25 590.66L671.48 585.48L670.69 580.31L669.90 575.13L669.10 569.95L668.28 564.78L667.46 559.60L666.62 554.42L665.77 549.25L664.90 544.07L664.03 538.89L663.13 533.72L662.23 528.54L661.30 523.36L660.36 518.19L659.41 513.01L658.43 507.84L657.43 502.66L656.42 497.48L655.39 492.31L654.33 487.13L653.25 481.95L652.15 476.78L651.02 471.60L649.87 466.42L648.69 461.25L647.49 456.07L646.26 450.89L644.99 445.72L643.70 440.54L642.38 435.36L641.02 430.19L639.63 425.01L638.20 419.84L636.73 414.66L635.23 409.48L633.69 404.31L632.10 399.13L630.48 393.95L628.80 388.78L627.09 383.60L625.32 378.42L623.51 373.25L621.64 368.07L619.72 362.89L617.75 357.72L615.72 352.54L613.64 347.36L611.49 342.19L609.28 337.01L607.01 331.84L604.67 326.66L602.27 321.48L599.80 316.31L597.25 311.13L594.64 305.95L591.95 300.78L589.18 295.60L586.34 290.42L583.42 285.25L580.42 280.07L577.34 274.89L574.18 269.72L570.94 264.54L567.62 259.36L564.21 254.19L560.73 249.01L557.16 243.84L553.51 238.66L549.79 233.48L545.99 228.31L542.11 223.13L538.15 217.95L534.13 212.78L530.04 207.60L525.89 202.42L521.67 197.25L517.40 192.07L513.07 186.89L508.69 181.72L504.27 176.54L499.81 171.36L495.31 166.19L490.79 161.01L486.23 155.84L481.66 150.66L477.07 145.48L472.46 140.31L467.85 135.13L463.23 129.95L458.61 124.78L454.00 119.60L449.39 114.42L444.80 109.25L440.22 104.07L435.65 98.89L431.11 93.72L426.59 88.54L422.09 83.36L417.62 78.19L413.17 73.01L408.76 67.84L404.38 62.66L400.03 57.48L395.71 52.31L391.43 47.13L387.19 41.95L382.98 36.78L378.81 31.60" fill="none" stroke="#a4a4e4" stroke-width="0.9"/>
<path d="M700.77 647.60L700.23 642.42L699.69 637.25L699.15 632.07L698.60 626.89L698.06 621.72L697.51 616.54L696.96 611.36L696.40 606.19L695.84 601.01L695.28 595.84L694.72 590.66L694.15 585.48L693.57 580.31L693.00 575.13L692.41 569.95L691.82 564.78L691.22 559.60L690.62 554.42L690.01 549.25L689.39 544.07L688.77 538.89L688.13 533.72L687.49 528.54L686.84 523.36L686.17 518.19L685.50 513.01L684.82 507.84L684.12 502.66L683.41 497.48L682.69 492.31L681.96 487.13L681.21 481.95L680.45 476.78L679.67 471.60L678.88 466.42L678.07 461.25L677.25 456.07L676.40 450.89L675.54 445.72L674.66 440.54L673.75 435.36L672.83 430.19L671.88 425.01L670.91 419.84L669.92 414.66L668.90 409.48L667.86 404.31L666.78 399.13L665.68 393.95L664.56 388.78L663.40 383.60L662.20 378.42L660.98 373.25L659.72 368.07L658.43 362.89L657.10 357.72L655.73 352.54L654.32 347.36L652.87 342.19L651.38 337.01L649.85 331.84L648.27 326.66L646.64 321.48L644.96 316.31L643.23 311.13L641.45 305.95L639.61 300.78L637.72 295.60L635.77 290.42L633.76 285.25L631.69 280.07L629.55 274.89L627.35 269.72L625.08 264.54L622.74 259.36L620.33 254.19L617.85 249.01L615.29 243.84L612.66 238.66L609.95 233.48L607.16 228.31L604.29 223.13L601.34 217.95L598.30 212.78L595.19 207.60L591.99 202.42L588.70 197.25L585.34 192.07L581.89 186.89L578.36 181.72L574.74 176.54L571.05 171.36L567.28 166.19L563.44 161.01L559.52 155.84L555.53 150.66L551.47 145.48L547.35 140.31L543.18 135.13L538.94 129.95L534.66 124.78L530.32 119.60L525.95 114.42L521.54 109.25L517.10 104.07L512.63 98.89L508.13 93.72L503.62 88.54L499.10 83.36L494.56 78.19L490.02 73.01L485.48 67.84L480.94 62.66L476.41 57.48L471.89 52.31L467.39 47.13L462.90 41.95L458.43 36.78L453.98 31.60" fill="none" stroke="#a4a4e4" stroke-width="0.9"/>
<path d="M717.90 647.60L717.48 642.42L717.06 637.25L716.64 632.07L716.22 626.89L715.80 621.72L715.39 616.54L714.97 611.36L714.55 606.19L714.13 601.01L713.71 595.84L713.29 590.66L712.87 585.48L712.45 580.31L712.03 575.13L711.60 569.95L711.17 564.78L710.74 559.60L710.30 554.42L709.87 549.25L709.42 544.07L708.98 538.89L708.53 533.72L708.07 528.54L707.61 523.36L707.15 518.19L706.68 513.01L706.20 507.84L705.71 502.66L705.22 497.48L704.72 492.31L704.22 487.13L703.70 481.95L703.18 476.78L702.65 471.60L702.10 466.42L701.55 461.25L700.99 456.07L700.41 450.89L699.83 445.72L699.23 440.54L698.62 435.36L697.99 430.19L697.35 425.01L696.70 419.84L696.03 414.66L695.34 409.48L694.64 404.31L693.91 399.13L693.18 393.95L692.42 388.78L691.64 383.60L690.84 378.42L690.02 373.25L689.17 368.07L688.30 362.89L687.41 357.72L686.49 352.54L685.55 347.36L684.58 342.19L683.58 337.01L682.55 331.84L681.49 326.66L680.39 321.48L679.27 316.31L678.10 311.13L676.91 305.95L675.67 300.78L674.40 295.60L673.08 290.42L671.72 285.25L670.32 280.07L668.88 274.89L667.39 269.72L665.84 264.54L664.25 259.36L662.61 254.19L660.91 249.01L659.16 243.84L657.35 238.66L655.48 233.48L653.55 228.31L651.56 223.13L649.50 217.95L647.37 212.78L645.17 207.60L642.91 202.42L640.57 197.25L638.15 192.07L635.66 186.89L633.09 181.72L630.44 176.54L627.71 171.36L624.90 166.19L622.01 161.01L619.03 155.84L615.96 150.66L612.81 145.48L609.58 140.31L606.26 135.13L602.86 129.95L599.37 124.78L595.81 119.60L592.16 114.42L588.43 109.25L584.63 104.07L580.75 98.89L576.81 93.72L572.80 88.54L568.72 83.36L564.59 78.19L560.40 73.01L556.16 67.84L551.88 62.66L547.56 57.48L543.20 52.31L538.82 47.13L534.40 41.95L529.97 36.78L525.52 31.60" fill="none" stroke="#a4a4e4" stroke-width="0.9"/>
<path d="M734.39 647.60L734.07 642.42L733.75 637.25L733.44 632.07L733.13 626.89L732.82 621.72L732.52 616.54L732.21 611.36L731.91 606.19L731.61 601.01L731.31 595.84L731.01 590.66L730.72 585.48L730.42 580.31L730.13 575.13L729.83 569.95L729.54 564.78L729.25 559.60L728.95 554.42L728.66 549.25L728.36 544.07L728.06 538.89L727.77 533.72L727.47 528.54L727.17 523.36L726.86 518.19L726.56 513.01L726.25 507.84L725.94 502.66L725.63 497.48L725.31 492.31L724.99 487.13L724.66 481.95L724.33 476.78L724.00 471.60L723.66 466.42L723.31 461.25L722.96 456.07L722.61 450.89L722.24 445.72L721.87 440.54L721.49 435.36L721.11 430.19L720.71 425.01L720.31 419.84L719.89 414.66L719.47 409.48L719.04 404.31L718.59 399.13L718.14 393.95L717.67 388.78L717.19 383.60L716.70 378.42L716.20 373.25L715.68 368.07L715.14 362.89L714.59 357.72L714.03 352.54L713.44 347.36L712.84 342.19L712.22 337.01L711.59 331.84L710.93 326.66L710.25 321.48L709.55 316.31L708.83 311.13L708.08 305.95L707.31 300.78L706.51 295.60L705.69 290.42L704.84 285.25L703.97 280.07L703.06 274.89L702.12 269.72L701.15 264.54L700.15 259.36L699.11 254.19L698.03 249.01L696.92 243.84L695.77 238.66L694.58 233.48L693.35 228.31L692.07 223.13L690.75 217.95L689.39 212.78L687.97 207.60L686.51 202.42L684.99 197.25L683.42 192.07L681.79 186.89L680.11 181.72L678.36 176.54L676.56 171.36L674.69 166.19L672.76 161.01L670.75 155.84L668.68 150.66L666.54 145.48L664.32 140.31L662.03 135.13L659.66 129.95L657.22 124.78L654.69 119.60L652.08 114.42L649.39 109.25L646.61 104.07L643.75 98.89L640.80 93.72L637.76 88.54L634.64 83.36L631.43 78.19L628.14 73.01L624.76 67.84L621.29 62.66L617.75 57.48L614.12 52.31L610.41 47.13L606.63 41.95L602.78 36.78L598.86 31.60" fill="none" stroke="#a4a4e4" stroke-width="0.9"/>
<path d="M342.27 647.60L344.18 642.82L346.13 637.96L348.13 633.01L350.16 627.95L352.24 622.80L354.36 617.55L356.53 612.19L358.75 606.71L361.02 601.12L363.35 595.41L365.73 589.57L368.17 583.60L370.67 577.49L373.23 571.23L375.87 564.82L378.57 558.25L381.35 551.50L384.21 544.59L387.15 537.48L390.18 530.17L393.31 522.66L396.53 514.92L399.86 506.95L403.30 498.73L406.86 490.24L410.56 481.46L414.38 472.39L418.36 462.98L422.49 453.23" fill="none" stroke="#3d8f3d" stroke-width="1.1" stroke-dasharray="1.04,1.72"/>
<path d="M403.17 647.60L404.97 642.82L406.80 637.96L408.67 633.01L410.58 627.95L412.53 622.80L414.53 617.55L416.57 612.19L418.65 606.71L420.79 601.12L422.97 595.41L425.21 589.57L427.51 583.60L429.86 577.49L432.28 571.23L434.76 564.82L437.30 558.25L439.93 551.50L442.62 544.59L445.40 537.48L448.26 530.17L451.21 522.66L454.25 514.92L457.40 506.95L460.65 498.73L464.02 490.24L467.52 481.46L471.14 472.39L474.90 462.98L478.82 453.23" fill="none" stroke="#3d8f3d" stroke-width="1.1" stroke-dasharray="1.04,1.72"/>
<path d="M468.72 647.60L470.38 642.82L472.08 637.96L473.81 633.01L475.58 627.95L477.39 622.80L479.24 617.55L481.13 612.19L483.07 606.71L485.05 601.12L487.08 595.41L489.16 589.57L491.30 583.60L493.49 577.49L495.74 571.23L498.05 564.82L500.42 558.25L502.87 551.50L505.38 544.59L507.97 537.48L510.64 530.17L513.40 522.66L516.24 514.92L519.19 506.95L522.23 498.73L525.38 490.24L528.65 481.46L532.05 472.39L535.58 462.98L539.26 453.23" fill="none" stroke="#3d8f3d" stroke-width="1.1" stroke-dasharray="1.04,1.72"/>
<path d="M509.36 647.60L510.94 642.82L512.55 637.96L514.20 633.01L515.88 627.95L517.60 622.80L519.35 617.55L521.15 612.19L522.99 606.71L524.88 601.12L526.81 595.41L528.79 589.57L530.82 583.60L532.91 577.49L535.05 571.23L537.25 564.82L539.52 558.25L541.85 551.50L544.25 544.59L546.72 537.48L549.27 530.17L551.90 522.66L554.62 514.92L557.43 506.95L560.34 498.73L563.36 490.24L566.49 481.46L569.74 472.39L573.12 462.98L576.64 453.23" fill="none" stroke="#3d8f3d" stroke-width="1.1" stroke-dasharray="1.04,1.72"/>
<path d="M539.28 647.60L540.79 642.82L542.34 637.96L543.92 633.01L545.53 627.95L547.18 622.80L548.87 617.55L550.60 612.19L552.37 606.71L554.18 601.12L556.04 595.41L557.94 589.57L559.90 583.60L561.91 577.49L563.97 571.23L566.09 564.82L568.27 558.25L570.51 551.50L572.83 544.59L575.21 537.48L577.67 530.17L580.21 522.66L582.83 514.92L585.55 506.95L588.36 498.73L591.27 490.24L594.29 481.46L597.44 472.39L600.70 462.98L604.11 453.23" fill="none" stroke="#3d8f3d" stroke-width="1.1" stroke-dasharray="1.04,1.72"/>
<path d="M563.11 647.60L564.57 642.82L566.06 637.96L567.59 633.01L569.15 627.95L570.74 622.80L572.38 617.55L574.05 612.19L575.76 606.71L577.51 601.12L579.31 595.41L581.16 589.57L583.05 583.60L585.00 577.49L586.99 571.23L589.05 564.82L591.16 558.25L593.34 551.50L595.58 544.59L597.89 537.48L600.27 530.17L602.74 522.66L605.29 514.92L607.92 506.95L610.65 498.73L613.48 490.24L616.42 481.46L619.47 472.39L622.65 462.98L625.96 453.23" fill="none" stroke="#3d8f3d" stroke-width="1.1" stroke-dasharray="1.04,1.72"/>
<path d="M591.83 647.60L593.23 642.82L594.66 637.96L596.12 633.01L597.61 627.95L599.14 622.80L600.70 617.55L602.31 612.19L603.95 606.71L605.63 601.12L607.35 595.41L609.12 589.57L610.94 583.60L612.81 577.49L614.73 571.23L616.70 564.82L618.73 558.25L620.82 551.50L622.98 544.59L625.20 537.48L627.50 530.17L629.87 522.66L632.33 514.92L634.86 506.95L637.50 498.73L640.22 490.24L643.06 481.46L646.01 472.39L649.07 462.98L652.27 453.23" fill="none" stroke="#3d8f3d" stroke-width="1.1" stroke-dasharray="1.04,1.72"/>
<path d="M615.10 647.60L616.44 642.82L617.82 637.96L619.23 633.01L620.66 627.95L622.14 622.80L623.65 617.55L625.19 612.19L626.77 606.71L628.40 601.12L630.06 595.41L631.77 589.57L633.53 583.60L635.33 577.49L637.18 571.23L639.09 564.82L641.05 558.25L643.08 551.50L645.16 544.59L647.32 537.48L649.54 530.17L651.83 522.66L654.21 514.92L656.67 506.95L659.22 498.73L661.87 490.24L664.62 481.46L667.47 472.39L670.45 462.98L673.56 453.23" fill="none" stroke="#3d8f3d" stroke-width="1.1" stroke-dasharray="1.04,1.72"/>
<path d="M640.62 647.60L641.90 642.82L643.22 637.96L644.57 633.01L645.95 627.95L647.36 622.80L648.81 617.55L650.29 612.19L651.81 606.71L653.36 601.12L654.96 595.41L656.60 589.57L658.29 583.60L660.02 577.49L661.80 571.23L663.64 564.82L665.53 558.25L667.47 551.50L669.48 544.59L671.55 537.48L673.69 530.17L675.91 522.66L678.20 514.92L680.57 506.95L683.03 498.73L685.58 490.24L688.24 481.46L691.00 472.39L693.88 462.98L696.88 453.23" fill="none" stroke="#3d8f3d" stroke-width="1.1" stroke-dasharray="1.04,1.72"/>
<path d="M661.85 647.60L663.09 642.82L664.36 637.96L665.66 633.01L666.99 627.95L668.35 622.80L669.74 617.55L671.17 612.19L672.63 606.71L674.13 601.12L675.68 595.41L677.26 589.57L678.89 583.60L680.56 577.49L682.28 571.23L684.05 564.82L685.88 558.25L687.76 551.50L689.70 544.59L691.71 537.48L693.78 530.17L695.92 522.66L698.14 514.92L700.44 506.95L702.83 498.73L705.30 490.24L707.88 481.46L710.56 472.39L713.35 462.98L716.26 453.23" fill="none" stroke="#3d8f3d" stroke-width="1.1" stroke-dasharray="1.04,1.72"/>
<path d="M688.29 647.60L689.47 642.82L690.67 637.96L691.91 633.01L693.17 627.95L694.47 622.80L695.79 617.55L697.15 612.19L698.55 606.71L699.98 601.12L701.46 595.41L702.97 589.57L704.52 583.60L706.12 577.49L707.76 571.23L709.46 564.82L711.21 558.25L713.01 551.50L714.87 544.59L716.79 537.48L718.77 530.17L720.83 522.66L722.95 514.92L725.16 506.95L727.45 498.73L729.83 490.24L732.30 481.46L734.88 472.39L737.56 462.98L740.37 453.23" fill="none" stroke="#3d8f3d" stroke-width="1.1" stroke-dasharray="1.04,1.72"/>
<path d="M710.23 647.60L711.36 642.82L712.51 637.96L713.69 633.01L714.90 627.95L716.14 622.80L717.41 617.55L718.72 612.19L720.06 606.71L721.43 601.12L722.84 595.41L724.29 589.57L725.79 583.60L727.32 577.49L728.90 571.23L730.53 564.82L732.21 558.25L733.95 551.50L735.73 544.59L737.58 537.48L739.50 530.17L741.48 522.66L743.53 514.92L745.66 506.95L747.87 498.73L750.16 490.24L752.55 481.46L755.04 472.39L757.64 462.98L760.35 453.23" fill="none" stroke="#3d8f3d" stroke-width="1.1" stroke-dasharray="1.04,1.72"/>
<line x1="-320.22" y1="647.60" x2="126.07" y2="31.60" stroke="#a0a0a0" stroke-width="0.9" stroke-dasharray="5.9,2.6"/>
<line x1="-249.33" y1="647.60" x2="196.96" y2="31.60" stroke="#a0a0a0" stroke-width="0.9" stroke-dasharray="5.9,2.6"/>
<line x1="-178.44" y1="647.60" x2="267.85" y2="31.60" stroke="#a0a0a0" stroke-width="0.9" stroke-dasharray="5.9,2.6"/>
<line x1="-107.56" y1="647.60" x2="338.74" y2="31.60" stroke="#a0a0a0" stroke-width="0.9" stroke-dasharray="5.9,2.6"/>
<line x1="-36.67" y1="647.60" x2="409.63" y2="31.60" stroke="#a0a0a0" stroke-width="0.9" stroke-dasharray="5.9,2.6"/>
<line x1="34.22" y1="647.60" x2="480.51" y2="31.60" stroke="#a0a0a0" stroke-width="0.9" stroke-dasharray="5.9,2.6"/>
<line x1="105.11" y1="647.60" x2="551.40" y2="31.60" stroke="#a0a0a0" stroke-width="0.9" stroke-dasharray="5.9,2.6"/>
<line x1="176.00" y1="647.60" x2="622.29" y2="31.60" stroke="#a0a0a0" stroke-width="0.9" stroke-dasharray="5.9,2.6"/>
<line x1="246.89" y1="647.60" x2="693.18" y2="31.60" stroke="#a0a0a0" stroke-width="0.9" stroke-dasharray="5.9,2.6"/>
<line x1="317.78" y1="647.60" x2="764.07" y2="31.60" stroke="#1a1a1a" stroke-width="1.1" stroke-dasharray="5.9,2.6"/>
<line x1="388.67" y1="647.60" x2="834.96" y2="31.60" stroke="#a0a0a0" stroke-width="0.9" stroke-dasharray="5.9,2.6"/>
<line x1="459.56" y1="647.60" x2="905.85" y2="31.60" stroke="#1a1a1a" stroke-width="1.1" stroke-dasharray="5.9,2.6"/>
<line x1="530.44" y1="647.60" x2="976.74" y2="31.60" stroke="#a0a0a0" stroke-width="0.9" stroke-dasharray="5.9,2.6"/>
<line x1="601.33" y1="647.60" x2="1047.63" y2="31.60" stroke="#a0a0a0" stroke-width="0.9" stroke-dasharray="5.9,2.6"/>
<line x1="672.22" y1="647.60" x2="1118.51" y2="31.60" stroke="#a0a0a0" stroke-width="0.9" stroke-dasharray="5.9,2.6"/>
<line x1="743.11" y1="647.60" x2="1189.40" y2="31.60" stroke="#a0a0a0" stroke-width="0.9" stroke-dasharray="5.9,2.6"/>
<line x1="814.00" y1="647.60" x2="1260.29" y2="31.60" stroke="#a0a0a0" stroke-width="0.9" stroke-dasharray="5.9,2.6"/>
<path d="M454.20 31.60L399.50 213.19L365.20 271.64L401.30 319.41L415.40 359.79L437.20 394.77L452.50 425.63L452.60 453.23L450.20 478.20L457.30 501.00L457.90 521.96L441.10 541.38L426.60 559.45L429.60 576.36L435.90 592.24L448.10 607.22L462.10 612.00" fill="none" stroke="#0000ff" stroke-width="1.1" stroke-linejoin="round"/>
<path d="M313.60 31.60L262.60 137.82L270.20 213.19L365.20 271.64L397.60 319.41L388.70 359.79L415.00 394.77L436.10 425.63L403.80 453.23L268.00 478.20L228.50 501.00L223.00 521.96L251.90 541.38L264.10 559.45L407.40 592.24L406.60 607.22L413.60 611.90" fill="none" stroke="#009900" stroke-width="2.8" stroke-linejoin="round"/>
<path d="M456.30 31.60L402.30 213.19L365.20 271.64L402.70 319.41L418.40 359.79L440.90 394.77L457.00 425.63L465.00 453.23L477.30 478.20L492.90 501.00L497.50 521.96L474.60 541.38L455.70 559.45L453.60 576.36L447.20 592.24L466.10 607.22L486.10 611.80" fill="none" stroke="#ff0000" stroke-width="2.8" stroke-linejoin="round"/>
</g>
<text x="422.49" y="451.00" font-size="8.30" font-family='"Liberation Sans",sans-serif' font-weight="normal" fill="#62a862" text-anchor="middle" textLength="4.6" lengthAdjust="spacingAndGlyphs">1</text>
<text x="478.82" y="451.00" font-size="8.30" font-family='"Liberation Sans",sans-serif' font-weight="normal" fill="#62a862" text-anchor="middle" textLength="4.6" lengthAdjust="spacingAndGlyphs">2</text>
<text x="539.26" y="451.00" font-size="8.30" font-family='"Liberation Sans",sans-serif' font-weight="normal" fill="#62a862" text-anchor="middle" textLength="4.6" lengthAdjust="spacingAndGlyphs">4</text>
<text x="576.64" y="451.00" font-size="8.30" font-family='"Liberation Sans",sans-serif' font-weight="normal" fill="#62a862" text-anchor="middle" textLength="4.6" lengthAdjust="spacingAndGlyphs">6</text>
<text x="604.11" y="451.00" font-size="8.30" font-family='"Liberation Sans",sans-serif' font-weight="normal" fill="#62a862" text-anchor="middle" textLength="4.6" lengthAdjust="spacingAndGlyphs">8</text>
<text x="625.96" y="451.00" font-size="8.30" font-family='"Liberation Sans",sans-serif' font-weight="normal" fill="#62a862" text-anchor="middle" textLength="9.2" lengthAdjust="spacingAndGlyphs">10</text>
<text x="652.27" y="451.00" font-size="8.30" font-family='"Liberation Sans",sans-serif' font-weight="normal" fill="#62a862" text-anchor="middle" textLength="9.2" lengthAdjust="spacingAndGlyphs">13</text>
<text x="673.56" y="451.00" font-size="8.30" font-family='"Liberation Sans",sans-serif' font-weight="normal" fill="#62a862" text-anchor="middle" textLength="9.2" lengthAdjust="spacingAndGlyphs">16</text>
<text x="696.88" y="451.00" font-size="8.30" font-family='"Liberation Sans",sans-serif' font-weight="normal" fill="#62a862" text-anchor="middle" textLength="9.2" lengthAdjust="spacingAndGlyphs">20</text>
<text x="716.26" y="451.00" font-size="8.30" font-family='"Liberation Sans",sans-serif' font-weight="normal" fill="#62a862" text-anchor="middle" textLength="9.2" lengthAdjust="spacingAndGlyphs">24</text>
<text x="740.37" y="451.00" font-size="8.30" font-family='"Liberation Sans",sans-serif' font-weight="normal" fill="#62a862" text-anchor="middle" textLength="9.2" lengthAdjust="spacingAndGlyphs">30</text>
<text x="760.35" y="451.00" font-size="8.30" font-family='"Liberation Sans",sans-serif' font-weight="normal" fill="#62a862" text-anchor="middle" textLength="9.2" lengthAdjust="spacingAndGlyphs">36</text>
<text x="413.40" y="622.50" font-size="11.10" font-family='"Liberation Sans",sans-serif' font-weight="bold" fill="#009900" text-anchor="middle" textLength="21.2" lengthAdjust="spacingAndGlyphs" stroke="#009900" stroke-width="0.35">14F</text>
<text x="486.20" y="622.50" font-size="11.10" font-family='"Liberation Sans",sans-serif' font-weight="bold" fill="#ff0000" text-anchor="middle" textLength="21.5" lengthAdjust="spacingAndGlyphs" stroke="#ff0000" stroke-width="0.35">32F</text>
<rect x="176.50" y="32.50" width="638.00" height="616.00" fill="none" stroke="#000" stroke-width="1.1"/>
<path d="M171.50 32.50L176.50 32.50M814.50 32.50L819.50 32.50M171.50 138.50L176.50 138.50M814.50 138.50L819.50 138.50M171.50 213.50L176.50 213.50M814.50 213.50L819.50 213.50M171.50 272.50L176.50 272.50M814.50 272.50L819.50 272.50M171.50 319.50L176.50 319.50M814.50 319.50L819.50 319.50M171.50 360.50L176.50 360.50M814.50 360.50L819.50 360.50M171.50 395.50L176.50 395.50M814.50 395.50L819.50 395.50M171.50 426.50L176.50 426.50M814.50 426.50L819.50 426.50M171.50 453.50L176.50 453.50M814.50 453.50L819.50 453.50M171.50 478.50L176.50 478.50M814.50 478.50L819.50 478.50M171.50 501.50L176.50 501.50M814.50 501.50L819.50 501.50M171.50 522.50L176.50 522.50M814.50 522.50L819.50 522.50M171.50 541.50L176.50 541.50M814.50 541.50L819.50 541.50M171.50 559.50L176.50 559.50M814.50 559.50L819.50 559.50M171.50 576.50L176.50 576.50M814.50 576.50L819.50 576.50M171.50 592.50L176.50 592.50M814.50 592.50L819.50 592.50M171.50 607.50L176.50 607.50M814.50 607.50L819.50 607.50M171.50 621.50L176.50 621.50M814.50 621.50L819.50 621.50M171.50 635.50L176.50 635.50M814.50 635.50L819.50 635.50M171.50 648.50L176.50 648.50M814.50 648.50L819.50 648.50M176.50 648.50L176.50 653.50M176.50 27.50L176.50 32.50M247.50 648.50L247.50 653.50M247.50 27.50L247.50 32.50M318.50 648.50L318.50 653.50M318.50 27.50L318.50 32.50M389.50 648.50L389.50 653.50M389.50 27.50L389.50 32.50M460.50 648.50L460.50 653.50M460.50 27.50L460.50 32.50M530.50 648.50L530.50 653.50M530.50 27.50L530.50 32.50M601.50 648.50L601.50 653.50M601.50 27.50L601.50 32.50M672.50 648.50L672.50 653.50M672.50 27.50L672.50 32.50M743.50 648.50L743.50 653.50M743.50 27.50L743.50 32.50M814.50 648.50L814.50 653.50M814.50 27.50L814.50 32.50" stroke="#000" stroke-width="1.1" fill="none"/>
<text x="166.50" y="36.60" font-size="13.90" font-family='"Liberation Sans",sans-serif' font-weight="normal" fill="#000" text-anchor="end" textLength="25.5" lengthAdjust="spacingAndGlyphs">100</text>
<text x="166.50" y="218.19" font-size="13.90" font-family='"Liberation Sans",sans-serif' font-weight="normal" fill="#000" text-anchor="end" textLength="25.5" lengthAdjust="spacingAndGlyphs">200</text>
<text x="166.50" y="324.41" font-size="13.90" font-family='"Liberation Sans",sans-serif' font-weight="normal" fill="#000" text-anchor="end" textLength="25.5" lengthAdjust="spacingAndGlyphs">300</text>
<text x="166.50" y="399.77" font-size="13.90" font-family='"Liberation Sans",sans-serif' font-weight="normal" fill="#000" text-anchor="end" textLength="25.5" lengthAdjust="spacingAndGlyphs">400</text>
<text x="166.50" y="458.23" font-size="13.90" font-family='"Liberation Sans",sans-serif' font-weight="normal" fill="#000" text-anchor="end" textLength="25.5" lengthAdjust="spacingAndGlyphs">500</text>
<text x="166.50" y="506.00" font-size="13.90" font-family='"Liberation Sans",sans-serif' font-weight="normal" fill="#000" text-anchor="end" textLength="25.5" lengthAdjust="spacingAndGlyphs">600</text>
<text x="166.50" y="546.38" font-size="13.90" font-family='"Liberation Sans",sans-serif' font-weight="normal" fill="#000" text-anchor="end" textLength="25.5" lengthAdjust="spacingAndGlyphs">700</text>
<text x="166.50" y="581.36" font-size="13.90" font-family='"Liberation Sans",sans-serif' font-weight="normal" fill="#000" text-anchor="end" textLength="25.5" lengthAdjust="spacingAndGlyphs">800</text>
<text x="166.50" y="612.22" font-size="13.90" font-family='"Liberation Sans",sans-serif' font-weight="normal" fill="#000" text-anchor="end" textLength="25.5" lengthAdjust="spacingAndGlyphs">900</text>
<text x="166.50" y="639.82" font-size="13.90" font-family='"Liberation Sans",sans-serif' font-weight="normal" fill="#000" text-anchor="end" textLength="34.3" lengthAdjust="spacingAndGlyphs">1000</text>
<text x="176.00" y="668.40" font-size="13.90" font-family='"Liberation Sans",sans-serif' font-weight="normal" fill="#000" text-anchor="middle" textLength="28.3" lengthAdjust="spacingAndGlyphs">−40</text>
<text x="246.89" y="668.40" font-size="13.90" font-family='"Liberation Sans",sans-serif' font-weight="normal" fill="#000" text-anchor="middle" textLength="28.3" lengthAdjust="spacingAndGlyphs">−30</text>
<text x="317.78" y="668.40" font-size="13.90" font-family='"Liberation Sans",sans-serif' font-weight="normal" fill="#000" text-anchor="middle" textLength="28.3" lengthAdjust="spacingAndGlyphs">−20</text>
<text x="388.67" y="668.40" font-size="13.90" font-family='"Liberation Sans",sans-serif' font-weight="normal" fill="#000" text-anchor="middle" textLength="28.3" lengthAdjust="spacingAndGlyphs">−10</text>
<text x="459.56" y="668.40" font-size="13.90" font-family='"Liberation Sans",sans-serif' font-weight="normal" fill="#000" text-anchor="middle" textLength="7.8" lengthAdjust="spacingAndGlyphs">0</text>
<text x="530.44" y="668.40" font-size="13.90" font-family='"Liberation Sans",sans-serif' font-weight="normal" fill="#000" text-anchor="middle" textLength="16.7" lengthAdjust="spacingAndGlyphs">10</text>
<text x="601.33" y="668.40" font-size="13.90" font-family='"Liberation Sans",sans-serif' font-weight="normal" fill="#000" text-anchor="middle" textLength="16.7" lengthAdjust="spacingAndGlyphs">20</text>
<text x="672.22" y="668.40" font-size="13.90" font-family='"Liberation Sans",sans-serif' font-weight="normal" fill="#000" text-anchor="middle" textLength="16.7" lengthAdjust="spacingAndGlyphs">30</text>
<text x="743.11" y="668.40" font-size="13.90" font-family='"Liberation Sans",sans-serif' font-weight="normal" fill="#000" text-anchor="middle" textLength="16.7" lengthAdjust="spacingAndGlyphs">40</text>
<text x="814.00" y="668.40" font-size="13.90" font-family='"Liberation Sans",sans-serif' font-weight="normal" fill="#000" text-anchor="middle" textLength="16.7" lengthAdjust="spacingAndGlyphs">50</text>
<text x="494.70" y="688.70" font-size="16.00" font-family='"Liberation Sans",sans-serif' font-weight="normal" fill="#000" text-anchor="middle" textLength="142.2" lengthAdjust="spacingAndGlyphs">Temperature (°C)</text>
<g transform="translate(122.3,343.3) rotate(-90)"><text x="0.00" y="0.00" font-size="16.00" font-family='"Liberation Sans",sans-serif' font-weight="normal" fill="#000" text-anchor="middle" textLength="120.6" lengthAdjust="spacingAndGlyphs">Pressure (hPa)</text></g>
<text x="190.20" y="22.75" font-size="14.10" font-family='"Liberation Sans",sans-serif' font-weight="bold" fill="#000" text-anchor="start" textLength="30.3" lengthAdjust="spacingAndGlyphs" stroke="#000" stroke-width="0.12">GFS</text>
<text x="225.90" y="22.75" font-size="14.10" font-family='"Liberation Sans",sans-serif' font-weight="bold" fill="#000" text-anchor="start" textLength="72.4" lengthAdjust="spacingAndGlyphs" stroke="#000" stroke-width="0.12">Sounding</text>
<text x="304.40" y="22.75" font-size="14.10" font-family='"Liberation Sans",sans-serif' font-weight="bold" fill="#000" text-anchor="start" textLength="66.7" lengthAdjust="spacingAndGlyphs" stroke="#000" stroke-width="0.12">38.21°N,</text>
<text x="377.20" y="22.75" font-size="14.10" font-family='"Liberation Sans",sans-serif' font-weight="bold" fill="#000" text-anchor="start" textLength="65.2" lengthAdjust="spacingAndGlyphs" stroke="#000" stroke-width="0.12">80.40°W</text>
<text x="447.80" y="22.75" font-size="14.10" font-family='"Liberation Sans",sans-serif' font-weight="bold" fill="#000" text-anchor="start" textLength="31.0" lengthAdjust="spacingAndGlyphs" stroke="#000" stroke-width="0.12">Init:</text>
<text x="485.90" y="22.75" font-size="14.10" font-family='"Liberation Sans",sans-serif' font-weight="bold" fill="#000" text-anchor="start" textLength="25.9" lengthAdjust="spacingAndGlyphs" stroke="#000" stroke-width="0.12">18z</text>
<text x="517.10" y="22.75" font-size="14.10" font-family='"Liberation Sans",sans-serif' font-weight="bold" fill="#000" text-anchor="start" textLength="28.1" lengthAdjust="spacingAndGlyphs" stroke="#000" stroke-width="0.12">Feb</text>
<text x="550.60" y="22.75" font-size="14.10" font-family='"Liberation Sans",sans-serif' font-weight="bold" fill="#000" text-anchor="start" textLength="17.2" lengthAdjust="spacingAndGlyphs" stroke="#000" stroke-width="0.12">10</text>
<text x="574.60" y="22.75" font-size="14.10" font-family='"Liberation Sans",sans-serif' font-weight="bold" fill="#000" text-anchor="start" textLength="50.6" lengthAdjust="spacingAndGlyphs" stroke="#000" stroke-width="0.12">[F000]</text>
<text x="628.40" y="22.75" font-size="14.10" font-family='"Liberation Sans",sans-serif' font-weight="bold" fill="#000" text-anchor="start" textLength="39.2" lengthAdjust="spacingAndGlyphs" stroke="#000" stroke-width="0.12">valid</text>
<text x="672.40" y="22.75" font-size="14.10" font-family='"Liberation Sans",sans-serif' font-weight="bold" fill="#000" text-anchor="start" textLength="27.5" lengthAdjust="spacingAndGlyphs" stroke="#000" stroke-width="0.12">18z</text>
<text x="705.40" y="22.75" font-size="14.10" font-family='"Liberation Sans",sans-serif' font-weight="bold" fill="#000" text-anchor="start" textLength="27.4" lengthAdjust="spacingAndGlyphs" stroke="#000" stroke-width="0.12">Feb</text>
<text x="738.40" y="22.75" font-size="14.10" font-family='"Liberation Sans",sans-serif' font-weight="bold" fill="#000" text-anchor="start" textLength="18.4" lengthAdjust="spacingAndGlyphs" stroke="#000" stroke-width="0.12">10</text>
<text x="762.40" y="22.75" font-size="14.10" font-family='"Liberation Sans",sans-serif' font-weight="bold" fill="#000" text-anchor="start" textLength="37.9" lengthAdjust="spacingAndGlyphs" stroke="#000" stroke-width="0.12">2025</text>
<text x="974.50" y="18.80" font-size="15.80" font-family='"Liberation Sans",sans-serif' font-weight="bold" fill="#808080" text-anchor="middle" textLength="192.3" lengthAdjust="spacingAndGlyphs" stroke="#808080" stroke-width="0.35">TROPICALTIDBITS.COM</text>
<path d="M847.95 31.60L822.65 31.60M832.14 31.60L828.97 21.48M835.30 31.60L832.14 21.48M838.46 31.60L835.30 21.48" stroke="#000" stroke-width="1.05" fill="none" stroke-linecap="round"/><path d="M822.65 31.60L825.81 21.48L828.97 31.60Z" fill="#000" stroke="#000" stroke-width="0.9" stroke-linejoin="round"/>
<path d="M847.90 138.92L822.70 136.72M840.03 138.23L837.76 127.88" stroke="#000" stroke-width="1.05" fill="none" stroke-linecap="round"/><path d="M822.70 136.72L826.73 126.91L829.00 137.27Z" fill="#000" stroke="#000" stroke-width="0.9" stroke-linejoin="round"/><path d="M830.57 137.41L834.61 127.60L836.88 137.96Z" fill="#000" stroke="#000" stroke-width="0.9" stroke-linejoin="round"/>
<path d="M847.94 212.75L822.66 213.63M840.04 213.02L836.53 203.02M843.20 212.91L839.69 202.91" stroke="#000" stroke-width="1.05" fill="none" stroke-linecap="round"/><path d="M822.66 213.63L825.47 203.40L828.98 213.41Z" fill="#000" stroke="#000" stroke-width="0.9" stroke-linejoin="round"/><path d="M830.56 213.35L833.37 203.13L836.88 213.13Z" fill="#000" stroke="#000" stroke-width="0.9" stroke-linejoin="round"/>
<path d="M847.90 272.75L822.70 270.54M840.03 272.06L837.76 261.70M843.18 272.33L840.91 261.98M846.33 272.61L844.06 262.25" stroke="#000" stroke-width="1.05" fill="none" stroke-linecap="round"/><path d="M822.70 270.54L826.73 260.74L829.00 271.09Z" fill="#000" stroke="#000" stroke-width="0.9" stroke-linejoin="round"/><path d="M830.57 271.23L834.61 261.43L836.88 271.78Z" fill="#000" stroke="#000" stroke-width="0.9" stroke-linejoin="round"/>
<path d="M847.95 319.41L822.65 319.41M840.04 319.41L836.88 309.29M843.21 319.41L840.04 309.29" stroke="#000" stroke-width="1.05" fill="none" stroke-linecap="round"/><path d="M822.65 319.41L825.81 309.29L828.97 319.41Z" fill="#000" stroke="#000" stroke-width="0.9" stroke-linejoin="round"/><path d="M830.56 319.41L833.72 309.29L836.88 319.41Z" fill="#000" stroke="#000" stroke-width="0.9" stroke-linejoin="round"/>
<path d="M847.83 361.55L822.77 358.03M840.00 360.45L839.14 355.22" stroke="#000" stroke-width="1.05" fill="none" stroke-linecap="round"/><path d="M822.77 358.03L827.31 348.45L829.04 358.91Z" fill="#000" stroke="#000" stroke-width="0.9" stroke-linejoin="round"/><path d="M830.60 359.13L835.14 349.55L836.87 360.01Z" fill="#000" stroke="#000" stroke-width="0.9" stroke-linejoin="round"/>
<path d="M847.93 395.44L822.67 394.11M832.14 394.61L829.51 384.34M835.30 394.77L832.67 384.50M838.46 394.94L835.83 384.67M841.62 395.10L838.99 384.83M844.77 395.27L843.46 390.13" stroke="#000" stroke-width="1.05" fill="none" stroke-linecap="round"/><path d="M822.67 394.11L826.36 384.17L828.98 394.44Z" fill="#000" stroke="#000" stroke-width="0.9" stroke-linejoin="round"/>
<path d="M847.90 426.73L822.70 424.53M832.15 425.35L829.88 415.00M835.30 425.63L833.03 415.27M838.45 425.91L836.18 415.55M841.60 426.18L840.47 421.00" stroke="#000" stroke-width="1.05" fill="none" stroke-linecap="round"/><path d="M822.70 424.53L826.73 414.72L829.00 425.08Z" fill="#000" stroke="#000" stroke-width="0.9" stroke-linejoin="round"/>
<path d="M847.87 454.69L822.73 451.78M832.16 452.87L830.18 442.45M835.30 453.23L833.32 442.82M838.44 453.59L836.46 443.18" stroke="#000" stroke-width="1.05" fill="none" stroke-linecap="round"/><path d="M822.73 451.78L827.04 442.09L829.02 452.50Z" fill="#000" stroke="#000" stroke-width="0.9" stroke-linejoin="round"/>
<path d="M847.85 479.81L822.75 476.59M832.16 477.80L830.31 467.36M835.30 478.20L833.45 467.76M838.44 478.60L837.51 473.38" stroke="#000" stroke-width="1.05" fill="none" stroke-linecap="round"/><path d="M822.75 476.59L827.18 466.96L829.03 477.40Z" fill="#000" stroke="#000" stroke-width="0.9" stroke-linejoin="round"/>
<path d="M847.64 503.80L822.96 498.19M832.22 500.29L831.37 489.73M835.30 501.00L834.88 495.71" stroke="#000" stroke-width="1.05" fill="none" stroke-linecap="round"/><path d="M822.96 498.19L828.29 489.02L829.13 499.59Z" fill="#000" stroke="#000" stroke-width="0.9" stroke-linejoin="round"/>
<path d="M847.55 525.11L823.05 518.82M832.24 521.18L831.96 515.88" stroke="#000" stroke-width="1.05" fill="none" stroke-linecap="round"/><path d="M823.05 518.82L828.63 509.80L829.17 520.39Z" fill="#000" stroke="#000" stroke-width="0.9" stroke-linejoin="round"/>
<path d="M847.56 544.50L823.04 538.25M823.04 538.25L822.48 527.67M826.11 539.04L825.54 528.45M829.17 539.82L828.61 529.23M832.24 540.60L831.67 530.01M835.30 541.38L835.02 536.08" stroke="#000" stroke-width="1.05" fill="none" stroke-linecap="round"/>
<path d="M846.61 565.12L823.99 553.79M823.99 553.79L825.69 543.32M826.82 555.20L828.52 544.74M829.64 556.62L831.35 546.16M832.47 558.04L833.32 552.80" stroke="#000" stroke-width="1.05" fill="none" stroke-linecap="round"/>
<path d="M844.93 584.56L825.67 568.16M825.67 568.16L829.82 558.41M828.07 570.21L832.23 560.45M830.48 572.26L832.56 567.38" stroke="#000" stroke-width="1.05" fill="none" stroke-linecap="round"/>
<path d="M843.93 601.49L826.67 582.99M826.67 582.99L831.92 573.78M828.83 585.30L831.45 580.70" stroke="#000" stroke-width="1.05" fill="none" stroke-linecap="round"/>
<path d="M843.53 621.44L827.07 602.23M827.07 602.23L832.69 593.24" stroke="#000" stroke-width="1.05" fill="none" stroke-linecap="round"/>
<rect x="26.10" y="134.00" width="2.70" height="7.0" fill="#f2e22a"/>
<rect x="26.10" y="210.00" width="1.80" height="6.0" fill="#f2e22a"/>
<rect x="26.00" y="268.00" width="11.10" height="7.0" fill="#fdbf3a"/>
<rect x="22.00" y="316.00" width="4.30" height="7.0" fill="#808080"/>
<rect x="26.00" y="356.00" width="3.00" height="7.0" fill="#f2e22a"/>
<rect x="26.00" y="391.00" width="1.10" height="7.0" fill="#f2e22a"/>
<rect x="20.80" y="422.00" width="5.20" height="7.0" fill="#808080"/>
<rect x="16.90" y="450.00" width="9.10" height="6.0" fill="#808080"/>
<rect x="15.00" y="475.00" width="11.00" height="6.0" fill="#808080"/>
<rect x="11.90" y="498.00" width="14.10" height="6.0" fill="#808080"/>
<rect x="11.10" y="519.00" width="14.90" height="6.0" fill="#808080"/>
<rect x="11.10" y="538.00" width="14.90" height="7.0" fill="#808080"/>
<rect x="12.00" y="556.00" width="14.00" height="7.0" fill="#808080"/>
<rect x="20.20" y="573.00" width="5.80" height="7.0" fill="#808080"/>
<rect x="26.00" y="589.00" width="2.10" height="6.0" fill="#eee21c"/>
<rect x="26.00" y="604.00" width="20.90" height="6.0" fill="#f59442"/>
<path d="M11.1 459.5L86.6 459.5M11.1 492.4L86.6 492.4" stroke="#ff0000" stroke-width="2.8" stroke-dasharray="8.6,2.7" fill="none"/>
<text x="87.60" y="455.30" font-size="11.10" font-family='"Liberation Sans",sans-serif' font-weight="bold" fill="#ff0000" text-anchor="end" textLength="25.3" lengthAdjust="spacingAndGlyphs" stroke="#ff0000" stroke-width="0.35">DGZ</text>
<text x="87.60" y="505.70" font-size="11.10" font-family='"Liberation Sans",sans-serif' font-weight="bold" fill="#ff0000" text-anchor="end" textLength="25.3" lengthAdjust="spacingAndGlyphs" stroke="#ff0000" stroke-width="0.35">DGZ</text>
<path d="M26.50 648.5L26.50 653.5M57.50 648.5L57.50 653.5M88.50 648.5L88.50 653.5" stroke="#000" stroke-width="1.1"/>
<text x="27.40" y="665.30" font-size="11.10" font-family='"Liberation Sans",sans-serif' font-weight="normal" fill="#000" text-anchor="middle" textLength="7.0" lengthAdjust="spacingAndGlyphs">0</text>
<text x="56.80" y="665.30" font-size="11.10" font-family='"Liberation Sans",sans-serif' font-weight="normal" fill="#000" text-anchor="middle" textLength="14.0" lengthAdjust="spacingAndGlyphs">−1</text>
<text x="87.90" y="665.30" font-size="11.10" font-family='"Liberation Sans",sans-serif' font-weight="normal" fill="#000" text-anchor="middle" textLength="14.0" lengthAdjust="spacingAndGlyphs">−2</text>
<text x="57.80" y="686.00" font-size="13.90" font-family='"Liberation Sans",sans-serif' font-weight="normal" fill="#000" text-anchor="middle" textLength="93.0" lengthAdjust="spacingAndGlyphs">Omega (Pa/s)</text>
<rect x="30.5" y="46.6" width="128.1" height="97.1" rx="2.8" ry="2.8" fill="#ffffff" fill-opacity="0.8" stroke="#d6d6d6" stroke-width="1.1"/>
<line x1="34.6" y1="55.50" x2="58.0" y2="55.50" stroke="#4ea04e" stroke-width="1.00" stroke-dasharray="1.39,2.29"/>
<text x="66.20" y="59.40" font-size="11.10" font-family='"Liberation Sans",sans-serif' font-weight="normal" fill="#000" text-anchor="start" textLength="80.0" lengthAdjust="spacingAndGlyphs">Sat. Mix. Ratio</text>
<line x1="34.6" y1="70.50" x2="58.0" y2="70.50" stroke="#dc9a9a" stroke-width="1.00"/>
<text x="66.20" y="75.02" font-size="11.10" font-family='"Liberation Sans",sans-serif' font-weight="normal" fill="#000" text-anchor="start" textLength="70.5" lengthAdjust="spacingAndGlyphs">Dry Adiabats</text>
<line x1="34.6" y1="86.50" x2="58.0" y2="86.50" stroke="#a4a4e4" stroke-width="1.00"/>
<text x="66.20" y="90.64" font-size="11.10" font-family='"Liberation Sans",sans-serif' font-weight="normal" fill="#000" text-anchor="start" textLength="85.5" lengthAdjust="spacingAndGlyphs">Pseudoadiabats</text>
<line x1="34.6" y1="102.50" x2="58.0" y2="102.50" stroke="#0000ff" stroke-width="1.00"/>
<text x="66.20" y="106.26" font-size="11.10" font-family='"Liberation Sans",sans-serif' font-weight="normal" fill="#000" text-anchor="start" textLength="43.0" lengthAdjust="spacingAndGlyphs">Wetbulb</text>
<line x1="34.6" y1="117.50" x2="58.0" y2="117.50" stroke="#009900" stroke-width="2.80"/>
<text x="66.20" y="121.88" font-size="11.10" font-family='"Liberation Sans",sans-serif' font-weight="normal" fill="#000" text-anchor="start" textLength="52.5" lengthAdjust="spacingAndGlyphs">Dewpoint</text>
<line x1="34.6" y1="133.50" x2="58.0" y2="133.50" stroke="#ff0000" stroke-width="2.80"/>
<text x="66.20" y="137.50" font-size="11.10" font-family='"Liberation Sans",sans-serif' font-weight="normal" fill="#000" text-anchor="start" textLength="70.0" lengthAdjust="spacingAndGlyphs">Temperature</text>
<g clip-path="url(#hodo)">
<ellipse cx="879.60" cy="119.20" rx="30.10" ry="26.60" fill="none" stroke="#9a9a9a" stroke-width="0.8" stroke-dasharray="1,1.6"/>
<ellipse cx="879.60" cy="119.20" rx="60.20" ry="53.20" fill="none" stroke="#9a9a9a" stroke-width="0.8" stroke-dasharray="1,1.6"/>
<ellipse cx="879.60" cy="119.20" rx="90.30" ry="79.80" fill="none" stroke="#9a9a9a" stroke-width="0.8" stroke-dasharray="1,1.6"/>
<ellipse cx="879.60" cy="119.20" rx="120.40" ry="106.40" fill="none" stroke="#9a9a9a" stroke-width="0.8" stroke-dasharray="1,1.6"/>
<ellipse cx="879.60" cy="119.20" rx="150.50" ry="133.00" fill="none" stroke="#9a9a9a" stroke-width="0.8" stroke-dasharray="1,1.6"/>
<ellipse cx="879.60" cy="119.20" rx="180.60" ry="159.60" fill="none" stroke="#9a9a9a" stroke-width="0.8" stroke-dasharray="1,1.6"/>
<ellipse cx="879.60" cy="119.20" rx="210.70" ry="186.20" fill="none" stroke="#9a9a9a" stroke-width="0.8" stroke-dasharray="1,1.6"/>
<ellipse cx="879.60" cy="119.20" rx="240.80" ry="212.80" fill="none" stroke="#9a9a9a" stroke-width="0.8" stroke-dasharray="1,1.6"/>
<ellipse cx="879.60" cy="119.20" rx="270.90" ry="239.40" fill="none" stroke="#9a9a9a" stroke-width="0.8" stroke-dasharray="1,1.6"/>
<path d="M864.5 119.5L1084.5 119.5M879.5 32.5L879.5 220.5" stroke="#3a3a3a" stroke-width="1.0"/>
<text x="909.70" y="137.40" font-size="11.10" font-family='"Liberation Sans",sans-serif' font-weight="normal" fill="#8c8c8c" text-anchor="middle" textLength="14.2" lengthAdjust="spacingAndGlyphs">20</text>
<text x="939.80" y="137.40" font-size="11.10" font-family='"Liberation Sans",sans-serif' font-weight="normal" fill="#8c8c8c" text-anchor="middle" textLength="14.2" lengthAdjust="spacingAndGlyphs">40</text>
<text x="969.90" y="137.40" font-size="11.10" font-family='"Liberation Sans",sans-serif' font-weight="normal" fill="#8c8c8c" text-anchor="middle" textLength="14.2" lengthAdjust="spacingAndGlyphs">60</text>
<text x="1000.00" y="137.40" font-size="11.10" font-family='"Liberation Sans",sans-serif' font-weight="normal" fill="#8c8c8c" text-anchor="middle" textLength="14.2" lengthAdjust="spacingAndGlyphs">80</text>
<text x="1030.10" y="137.40" font-size="11.10" font-family='"Liberation Sans",sans-serif' font-weight="normal" fill="#8c8c8c" text-anchor="middle" textLength="21.3" lengthAdjust="spacingAndGlyphs">100</text>
<text x="1060.20" y="137.40" font-size="11.10" font-family='"Liberation Sans",sans-serif' font-weight="normal" fill="#8c8c8c" text-anchor="middle" textLength="21.3" lengthAdjust="spacingAndGlyphs">120</text>
<path d="M886.40 127.20L890.00 131.50L895.50 134.80L902.70 138.60L908.20 140.30L920.00 139.20L935.50 135.90L942.00 134.80L955.00 135.50L964.90 135.90L972.50 135.90" fill="none" stroke="#ff0000" stroke-width="2.6" stroke-linejoin="round"/>
<path d="M972.50 135.90L988.90 132.50L998.00 128.90L1015.60 127.60L1020.10 126.30" fill="none" stroke="#119911" stroke-width="2.6" stroke-linejoin="round"/>
<path d="M1024.10 125.50L1040.60 137.00L1063.90 120.60" fill="none" stroke="#aa22bb" stroke-width="2.6" stroke-linejoin="round"/>
<path d="M1060.50 112.60L1067.80 123.40L1074.10 133.10L1076.90 135.30" fill="none" stroke="#0000ff" stroke-width="2.6" stroke-linejoin="round"/>
<rect x="901.40" y="135.00" width="7.0" height="9.0" fill="#fff"/>
<text x="904.90" y="143.20" font-size="11.00" font-family='"Liberation Sans",sans-serif' font-weight="normal" fill="#000" text-anchor="middle" textLength="7.0" lengthAdjust="spacingAndGlyphs">1</text>
<rect x="934.70" y="131.40" width="7.0" height="9.0" fill="#fff"/>
<text x="938.20" y="139.60" font-size="11.00" font-family='"Liberation Sans",sans-serif' font-weight="normal" fill="#000" text-anchor="middle" textLength="7.0" lengthAdjust="spacingAndGlyphs">2</text>
<rect x="965.20" y="131.40" width="7.0" height="9.0" fill="#fff"/>
<text x="968.70" y="139.60" font-size="11.00" font-family='"Liberation Sans",sans-serif' font-weight="normal" fill="#000" text-anchor="middle" textLength="7.0" lengthAdjust="spacingAndGlyphs">3</text>
<rect x="1016.60" y="122.30" width="7.0" height="9.0" fill="#fff"/>
<text x="1020.10" y="130.50" font-size="11.00" font-family='"Liberation Sans",sans-serif' font-weight="normal" fill="#000" text-anchor="middle" textLength="7.0" lengthAdjust="spacingAndGlyphs">6</text>
<rect x="1068.30" y="124.00" width="7.0" height="9.0" fill="#fff"/>
<text x="1071.80" y="132.20" font-size="11.00" font-family='"Liberation Sans",sans-serif' font-weight="normal" fill="#000" text-anchor="middle" textLength="7.0" lengthAdjust="spacingAndGlyphs">9</text>
<ellipse cx="942.0" cy="115.2" rx="8.7" ry="7.6" fill="#fff" stroke="#000" stroke-width="1.3"/>
<ellipse cx="942.0" cy="153.4" rx="8.7" ry="7.6" fill="#fff" stroke="#000" stroke-width="1.3"/>
<text x="942.00" y="118.80" font-size="9.50" font-family='"Liberation Sans",sans-serif' font-weight="normal" fill="#000" text-anchor="middle" textLength="10.5" lengthAdjust="spacingAndGlyphs">LM</text>
<text x="942.00" y="157.00" font-size="9.50" font-family='"Liberation Sans",sans-serif' font-weight="normal" fill="#000" text-anchor="middle" textLength="10.5" lengthAdjust="spacingAndGlyphs">RM</text>
</g>
<rect x="864.5" y="32.5" width="220" height="188" fill="none" stroke="#000" stroke-width="1.1"/>
<text x="973.60" y="234.20" font-size="11.10" font-family='"Liberation Sans",sans-serif' font-weight="normal" fill="#000" text-anchor="middle" textLength="204.3" lengthAdjust="spacingAndGlyphs">Hodograph (wind in kt, height in km)</text>
<text x="865.50" y="268.90" font-size="14.0" font-family='"Liberation Mono",monospace' fill="#000" xml:space="preserve">SRH 0-1km:      -30 </text>
<text x="865.50" y="285.60" font-size="14.0" font-family='"Liberation Mono",monospace' fill="#000" xml:space="preserve">SRH 0-3km:      113 </text>
<text x="864.00" y="305.00" font-size="14.0" font-family='"Liberation Mono",monospace' fill="#000" xml:space="preserve">SBCAPE:           0 J/kg</text>
<text x="864.00" y="322.40" font-size="14.0" font-family='"Liberation Mono",monospace' fill="#000" xml:space="preserve">MLCAPE:           0 J/kg</text>
<text x="864.00" y="339.80" font-size="14.0" font-family='"Liberation Mono",monospace' fill="#000" xml:space="preserve">MUCAPE:           0 J/kg</text>
<text x="864.00" y="357.20" font-size="14.0" font-family='"Liberation Mono",monospace' fill="#000" xml:space="preserve">SBCIN:            0 J/kg</text>
<text x="864.00" y="374.60" font-size="14.0" font-family='"Liberation Mono",monospace' fill="#000" xml:space="preserve">MLCIN:            0 J/kg</text>
<text x="864.00" y="392.00" font-size="14.0" font-family='"Liberation Mono",monospace' fill="#3333cc" xml:space="preserve">DCAPE:           52 J/kg</text>
<text x="864.00" y="409.40" font-size="14.0" font-family='"Liberation Mono",monospace' fill="#a52a2a" xml:space="preserve">SHR 200-850mb:  110 kt</text>
<text x="864.00" y="426.80" font-size="14.0" font-family='"Liberation Mono",monospace' fill="#8b5a0f" xml:space="preserve">RH 300-850mb:    36 %</text>
<text x="864.00" y="444.20" font-size="14.0" font-family='"Liberation Mono",monospace' fill="#000" xml:space="preserve">PWAT:          0.15 in</text>
<text x="1032.5" y="268.90" font-size="14.0" font-family='"Liberation Sans",sans-serif' font-style="italic" fill="#000" textLength="44" lengthAdjust="spacingAndGlyphs">m<tspan font-size="9.8" dy="-5.6" font-style="normal">2</tspan><tspan dy="5.6">s</tspan><tspan font-size="9.8" dy="-5.6" font-style="normal">−2</tspan></text>
<text x="1032.5" y="285.60" font-size="14.0" font-family='"Liberation Sans",sans-serif' font-style="italic" fill="#000" textLength="44" lengthAdjust="spacingAndGlyphs">m<tspan font-size="9.8" dy="-5.6" font-style="normal">2</tspan><tspan dy="5.6">s</tspan><tspan font-size="9.8" dy="-5.6" font-style="normal">−2</tspan></text>
<g clip-path="url(#thx)">
<path d="M1068.60 482.90L1052.30 493.70L1037.10 515.70L1004.30 537.70L995.70 548.60L984.30 559.40L960.00 570.00L940.90 581.40L932.90 592.90L929.10 602.90L929.10 614.30L937.70 618.60" fill="none" stroke="#3a9ab0" stroke-width="2.8" stroke-linejoin="round"/>
</g>
<rect x="880.5" y="483.5" width="204" height="165" fill="none" stroke="#000" stroke-width="1.1"/>
<text x="889.30" y="509.10" font-size="11.10" font-family='"Liberation Sans",sans-serif' font-weight="normal" fill="#000" text-anchor="start" textLength="21.0" lengthAdjust="spacingAndGlyphs">400</text>
<text x="889.30" y="552.90" font-size="11.10" font-family='"Liberation Sans",sans-serif' font-weight="normal" fill="#000" text-anchor="start" textLength="21.0" lengthAdjust="spacingAndGlyphs">600</text>
<text x="889.30" y="596.90" font-size="11.10" font-family='"Liberation Sans",sans-serif' font-weight="normal" fill="#000" text-anchor="start" textLength="21.0" lengthAdjust="spacingAndGlyphs">800</text>
<text x="919.40" y="639.20" font-size="11.10" font-family='"Liberation Sans",sans-serif' font-weight="normal" fill="#000" text-anchor="middle" textLength="21.0" lengthAdjust="spacingAndGlyphs">280</text>
<text x="982.30" y="639.20" font-size="11.10" font-family='"Liberation Sans",sans-serif' font-weight="normal" fill="#000" text-anchor="middle" textLength="21.0" lengthAdjust="spacingAndGlyphs">300</text>
<text x="1045.70" y="639.20" font-size="11.10" font-family='"Liberation Sans",sans-serif' font-weight="normal" fill="#000" text-anchor="middle" textLength="21.0" lengthAdjust="spacingAndGlyphs">320</text>
<path d="M880.5 505.50L885.4 505.50M880.5 549.50L885.4 549.50M880.5 593.50L885.4 593.50M880.5 637.50L885.4 637.50M919.50 648.5L919.50 643.6M982.50 648.5L982.50 643.6M1046.50 648.5L1046.50 643.6" stroke="#000" stroke-width="1.1"/>
<text x="981.40" y="661.20" font-size="11.10" font-family='"Liberation Sans",sans-serif' font-weight="normal" fill="#000" text-anchor="middle" textLength="175.0" lengthAdjust="spacingAndGlyphs">Equivalent Pot. Temperature (K)</text>
<g transform="translate(872.6,565.7) rotate(-90)"><text x="0.00" y="0.00" font-size="11.10" font-family='"Liberation Sans",sans-serif' font-weight="normal" fill="#000" text-anchor="middle" textLength="78.0" lengthAdjust="spacingAndGlyphs">Pressure (hPa)</text></g>
</svg>
</body></html>
